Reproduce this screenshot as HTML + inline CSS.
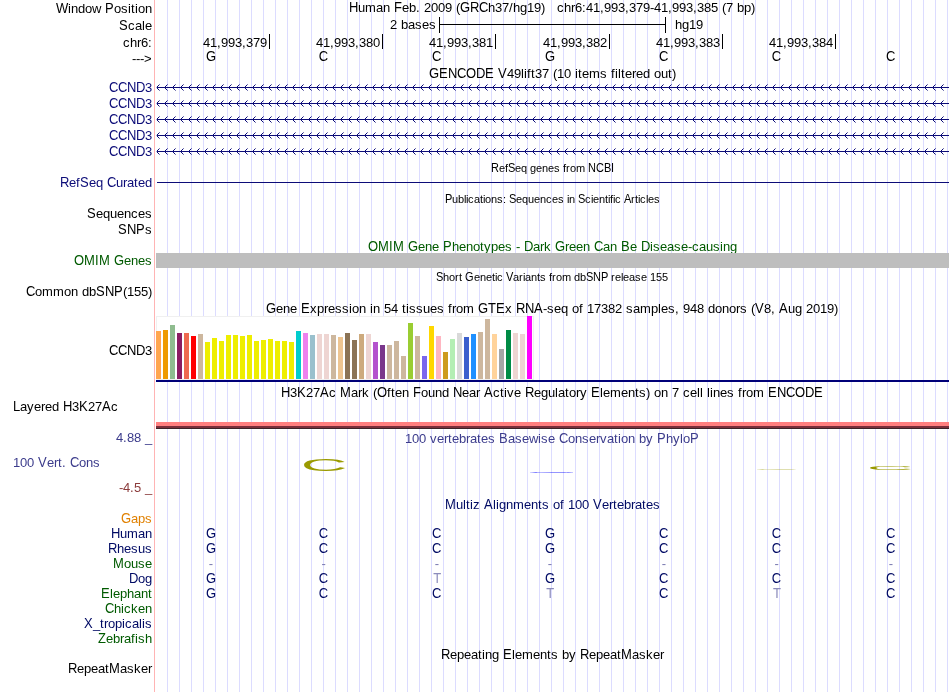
<!DOCTYPE html>
<html><head><meta charset="utf-8"><title>UCSC Genome Browser</title>
<style>
html,body{margin:0;padding:0;background:#fff;}
#img{position:relative;width:950px;height:692px;overflow:hidden;background:#fff;}
svg{display:block;will-change:transform;white-space:pre;font-family:"Liberation Sans", sans-serif;font-size:13px;}
</style></head><body>
<div id="img">
<svg width="950" height="692" viewBox="0 0 950 692" shape-rendering="crispEdges">
<rect x="167" y="0" width="1" height="692" fill="#dcdcff"/>
<rect x="179" y="0" width="1" height="692" fill="#dcdcff"/>
<rect x="191" y="0" width="1" height="692" fill="#dcdcff"/>
<rect x="203" y="0" width="1" height="692" fill="#dcdcff"/>
<rect x="215" y="0" width="1" height="692" fill="#dcdcff"/>
<rect x="227" y="0" width="1" height="692" fill="#dcdcff"/>
<rect x="239" y="0" width="1" height="692" fill="#dcdcff"/>
<rect x="251" y="0" width="1" height="692" fill="#dcdcff"/>
<rect x="263" y="0" width="1" height="692" fill="#dcdcff"/>
<rect x="275" y="0" width="1" height="692" fill="#dcdcff"/>
<rect x="287" y="0" width="1" height="692" fill="#dcdcff"/>
<rect x="299" y="0" width="1" height="692" fill="#dcdcff"/>
<rect x="311" y="0" width="1" height="692" fill="#dcdcff"/>
<rect x="323" y="0" width="1" height="692" fill="#dcdcff"/>
<rect x="335" y="0" width="1" height="692" fill="#dcdcff"/>
<rect x="347" y="0" width="1" height="692" fill="#dcdcff"/>
<rect x="359" y="0" width="1" height="692" fill="#dcdcff"/>
<rect x="371" y="0" width="1" height="692" fill="#dcdcff"/>
<rect x="383" y="0" width="1" height="692" fill="#dcdcff"/>
<rect x="395" y="0" width="1" height="692" fill="#dcdcff"/>
<rect x="407" y="0" width="1" height="692" fill="#dcdcff"/>
<rect x="419" y="0" width="1" height="692" fill="#dcdcff"/>
<rect x="431" y="0" width="1" height="692" fill="#dcdcff"/>
<rect x="443" y="0" width="1" height="692" fill="#dcdcff"/>
<rect x="455" y="0" width="1" height="692" fill="#dcdcff"/>
<rect x="467" y="0" width="1" height="692" fill="#dcdcff"/>
<rect x="479" y="0" width="1" height="692" fill="#dcdcff"/>
<rect x="491" y="0" width="1" height="692" fill="#dcdcff"/>
<rect x="503" y="0" width="1" height="692" fill="#dcdcff"/>
<rect x="515" y="0" width="1" height="692" fill="#dcdcff"/>
<rect x="527" y="0" width="1" height="692" fill="#dcdcff"/>
<rect x="539" y="0" width="1" height="692" fill="#dcdcff"/>
<rect x="551" y="0" width="1" height="692" fill="#dcdcff"/>
<rect x="563" y="0" width="1" height="692" fill="#dcdcff"/>
<rect x="575" y="0" width="1" height="692" fill="#dcdcff"/>
<rect x="587" y="0" width="1" height="692" fill="#dcdcff"/>
<rect x="599" y="0" width="1" height="692" fill="#dcdcff"/>
<rect x="611" y="0" width="1" height="692" fill="#dcdcff"/>
<rect x="623" y="0" width="1" height="692" fill="#dcdcff"/>
<rect x="635" y="0" width="1" height="692" fill="#dcdcff"/>
<rect x="647" y="0" width="1" height="692" fill="#dcdcff"/>
<rect x="659" y="0" width="1" height="692" fill="#dcdcff"/>
<rect x="671" y="0" width="1" height="692" fill="#dcdcff"/>
<rect x="683" y="0" width="1" height="692" fill="#dcdcff"/>
<rect x="695" y="0" width="1" height="692" fill="#dcdcff"/>
<rect x="707" y="0" width="1" height="692" fill="#dcdcff"/>
<rect x="719" y="0" width="1" height="692" fill="#dcdcff"/>
<rect x="731" y="0" width="1" height="692" fill="#dcdcff"/>
<rect x="743" y="0" width="1" height="692" fill="#dcdcff"/>
<rect x="755" y="0" width="1" height="692" fill="#dcdcff"/>
<rect x="767" y="0" width="1" height="692" fill="#dcdcff"/>
<rect x="779" y="0" width="1" height="692" fill="#dcdcff"/>
<rect x="791" y="0" width="1" height="692" fill="#dcdcff"/>
<rect x="803" y="0" width="1" height="692" fill="#dcdcff"/>
<rect x="815" y="0" width="1" height="692" fill="#dcdcff"/>
<rect x="827" y="0" width="1" height="692" fill="#dcdcff"/>
<rect x="839" y="0" width="1" height="692" fill="#dcdcff"/>
<rect x="851" y="0" width="1" height="692" fill="#dcdcff"/>
<rect x="863" y="0" width="1" height="692" fill="#dcdcff"/>
<rect x="875" y="0" width="1" height="692" fill="#dcdcff"/>
<rect x="887" y="0" width="1" height="692" fill="#dcdcff"/>
<rect x="899" y="0" width="1" height="692" fill="#dcdcff"/>
<rect x="911" y="0" width="1" height="692" fill="#dcdcff"/>
<rect x="923" y="0" width="1" height="692" fill="#dcdcff"/>
<rect x="935" y="0" width="1" height="692" fill="#dcdcff"/>
<rect x="947" y="0" width="1" height="692" fill="#dcdcff"/>
<rect x="154" y="0" width="1" height="692" fill="#ffb4b4"/>
<text y="13"><tspan x="56" font-size="14" textLength="12.27" lengthAdjust="spacingAndGlyphs">W</tspan><tspan x="68 71 78 85 92 101">indow </tspan><tspan x="105" font-size="14" textLength="8.67" lengthAdjust="spacingAndGlyphs">P</tspan><tspan x="114 121 128 131 135 138 145">osition</tspan></text>
<text y="12"><tspan x="349" font-size="14" textLength="9.39" lengthAdjust="spacingAndGlyphs">H</tspan><tspan x="358 365 376 383 390">uman </tspan><tspan x="394" font-size="14" textLength="7.94" lengthAdjust="spacingAndGlyphs">F</tspan><tspan x="402 409 416 420 424 431 438 445 452 456">eb. 2009 (</tspan><tspan x="460" font-size="14" textLength="10.11" lengthAdjust="spacingAndGlyphs">G</tspan><tspan x="470" font-size="14" textLength="9.39" lengthAdjust="spacingAndGlyphs">R</tspan><tspan x="479" font-size="14" textLength="9.39" lengthAdjust="spacingAndGlyphs">C</tspan><tspan x="488 495 502 509 513 520 527 534 541 545 549 553 557 564 571 575 582 586 593 600 604 611 618 625 629 636 643 650 654 661 668 672 679 686 693 697 704 711 718 722 726 733 737 744 751">h37/hg19)   chr6:41,993,379-41,993,385 (7 bp)</tspan></text>
<text y="30"><tspan x="119" font-size="14" textLength="8.67" lengthAdjust="spacingAndGlyphs">S</tspan><tspan x="128 135 142 145">cale</tspan></text>
<text x="390 397 401 408 415 422 429" y="29">2 bases</text>
<rect x="439" y="17" width="1" height="16" fill="#000"/>
<rect x="665" y="17" width="1" height="16" fill="#000"/>
<rect x="439" y="24" width="227" height="1" fill="#000"/>
<text x="675 682 689 696" y="29">hg19</text>
<text x="123 130 137 141 148" y="47">chr6:</text>
<rect x="269" y="34" width="1" height="15" fill="#000"/>
<text x="203 210 217 221 228 235 242 246 253 260" y="47">41,993,379</text>
<rect x="382" y="34" width="1" height="15" fill="#000"/>
<text x="316 323 330 334 341 348 355 359 366 373" y="47">41,993,380</text>
<rect x="495" y="34" width="1" height="15" fill="#000"/>
<text x="429 436 443 447 454 461 468 472 479 486" y="47">41,993,381</text>
<rect x="609" y="34" width="1" height="15" fill="#000"/>
<text x="543 550 557 561 568 575 582 586 593 600" y="47">41,993,382</text>
<rect x="722" y="34" width="1" height="15" fill="#000"/>
<text x="656 663 670 674 681 688 695 699 706 713" y="47">41,993,383</text>
<rect x="835" y="34" width="1" height="15" fill="#000"/>
<text x="769 776 783 787 794 801 808 812 819 826" y="47">41,993,384</text>
<text x="132 136 140 144" y="63">---&gt;</text>
<text x="205.9" y="61"><tspan x="205.9" font-size="14" textLength="10.11" lengthAdjust="spacingAndGlyphs">G</tspan></text>
<text x="318.83" y="61"><tspan x="318.83" font-size="14" textLength="9.39" lengthAdjust="spacingAndGlyphs">C</tspan></text>
<text x="432.08" y="61"><tspan x="432.08" font-size="14" textLength="9.39" lengthAdjust="spacingAndGlyphs">C</tspan></text>
<text x="544.9" y="61"><tspan x="544.9" font-size="14" textLength="10.11" lengthAdjust="spacingAndGlyphs">G</tspan></text>
<text x="658.88" y="61"><tspan x="658.88" font-size="14" textLength="9.39" lengthAdjust="spacingAndGlyphs">C</tspan></text>
<text x="771.83" y="61"><tspan x="771.83" font-size="14" textLength="9.39" lengthAdjust="spacingAndGlyphs">C</tspan></text>
<text x="885.88" y="61"><tspan x="885.88" font-size="14" textLength="9.39" lengthAdjust="spacingAndGlyphs">C</tspan></text>
<text y="78"><tspan x="429" font-size="14" textLength="10.11" lengthAdjust="spacingAndGlyphs">G</tspan><tspan x="439" font-size="14" textLength="8.67" lengthAdjust="spacingAndGlyphs">E</tspan><tspan x="448" font-size="14" textLength="9.39" lengthAdjust="spacingAndGlyphs">N</tspan><tspan x="457" font-size="14" textLength="9.39" lengthAdjust="spacingAndGlyphs">C</tspan><tspan x="466" font-size="14" textLength="10.11" lengthAdjust="spacingAndGlyphs">O</tspan><tspan x="476" font-size="14" textLength="9.39" lengthAdjust="spacingAndGlyphs">D</tspan><tspan x="485" font-size="14" textLength="8.67" lengthAdjust="spacingAndGlyphs">E</tspan><tspan x="494"> </tspan><tspan x="498" font-size="14" textLength="8.67" lengthAdjust="spacingAndGlyphs">V</tspan><tspan x="507 514 521 524 527 531 535 542 549 553 557 564 571 575 578 582 589 600 607 611 615 618 621 625 632 636 643 650 654 661 668 672">49lift37 (10 items filtered out)</tspan></text>
<text y="92" fill="#0c0c78"><tspan x="109" font-size="14" textLength="9.39" lengthAdjust="spacingAndGlyphs">C</tspan><tspan x="118" font-size="14" textLength="9.39" lengthAdjust="spacingAndGlyphs">C</tspan><tspan x="127" font-size="14" textLength="9.39" lengthAdjust="spacingAndGlyphs">N</tspan><tspan x="136" font-size="14" textLength="9.39" lengthAdjust="spacingAndGlyphs">D</tspan><tspan x="145">3</tspan></text>
<rect x="157" y="87" width="792" height="1" fill="#0c0c78"/>
<rect x="156" y="87" width="1" height="1" fill="#0c0c78" fill-opacity="0.35"/>
<text y="108" fill="#0c0c78"><tspan x="109" font-size="14" textLength="9.39" lengthAdjust="spacingAndGlyphs">C</tspan><tspan x="118" font-size="14" textLength="9.39" lengthAdjust="spacingAndGlyphs">C</tspan><tspan x="127" font-size="14" textLength="9.39" lengthAdjust="spacingAndGlyphs">N</tspan><tspan x="136" font-size="14" textLength="9.39" lengthAdjust="spacingAndGlyphs">D</tspan><tspan x="145">3</tspan></text>
<rect x="157" y="103" width="792" height="1" fill="#0c0c78"/>
<rect x="156" y="103" width="1" height="1" fill="#0c0c78" fill-opacity="0.35"/>
<text y="124" fill="#0c0c78"><tspan x="109" font-size="14" textLength="9.39" lengthAdjust="spacingAndGlyphs">C</tspan><tspan x="118" font-size="14" textLength="9.39" lengthAdjust="spacingAndGlyphs">C</tspan><tspan x="127" font-size="14" textLength="9.39" lengthAdjust="spacingAndGlyphs">N</tspan><tspan x="136" font-size="14" textLength="9.39" lengthAdjust="spacingAndGlyphs">D</tspan><tspan x="145">3</tspan></text>
<rect x="157" y="119" width="792" height="1" fill="#0c0c78"/>
<rect x="156" y="119" width="1" height="1" fill="#0c0c78" fill-opacity="0.35"/>
<text y="140" fill="#0c0c78"><tspan x="109" font-size="14" textLength="9.39" lengthAdjust="spacingAndGlyphs">C</tspan><tspan x="118" font-size="14" textLength="9.39" lengthAdjust="spacingAndGlyphs">C</tspan><tspan x="127" font-size="14" textLength="9.39" lengthAdjust="spacingAndGlyphs">N</tspan><tspan x="136" font-size="14" textLength="9.39" lengthAdjust="spacingAndGlyphs">D</tspan><tspan x="145">3</tspan></text>
<rect x="157" y="135" width="792" height="1" fill="#0c0c78"/>
<rect x="156" y="135" width="1" height="1" fill="#0c0c78" fill-opacity="0.35"/>
<text y="156" fill="#0c0c78"><tspan x="109" font-size="14" textLength="9.39" lengthAdjust="spacingAndGlyphs">C</tspan><tspan x="118" font-size="14" textLength="9.39" lengthAdjust="spacingAndGlyphs">C</tspan><tspan x="127" font-size="14" textLength="9.39" lengthAdjust="spacingAndGlyphs">N</tspan><tspan x="136" font-size="14" textLength="9.39" lengthAdjust="spacingAndGlyphs">D</tspan><tspan x="145">3</tspan></text>
<rect x="157" y="151" width="792" height="1" fill="#0c0c78"/>
<rect x="156" y="151" width="1" height="1" fill="#0c0c78" fill-opacity="0.35"/>
<path d="M157,87h1v1h-1zM157,86h1v3h-1z M158,85h1v1h-1zM158,89h1v1h-1zM165,87h1v1h-1zM165,86h1v3h-1z M166,85h1v1h-1zM166,89h1v1h-1zM173,87h1v1h-1zM173,86h1v3h-1z M174,85h1v1h-1zM174,89h1v1h-1zM181,87h1v1h-1zM181,86h1v3h-1z M182,85h1v1h-1zM182,89h1v1h-1zM189,87h1v1h-1zM189,86h1v3h-1z M190,85h1v1h-1zM190,89h1v1h-1zM197,87h1v1h-1zM197,86h1v3h-1z M198,85h1v1h-1zM198,89h1v1h-1zM205,87h1v1h-1zM205,86h1v3h-1z M206,85h1v1h-1zM206,89h1v1h-1zM213,87h1v1h-1zM213,86h1v3h-1z M214,85h1v1h-1zM214,89h1v1h-1zM221,87h1v1h-1zM221,86h1v3h-1z M222,85h1v1h-1zM222,89h1v1h-1zM229,87h1v1h-1zM229,86h1v3h-1z M230,85h1v1h-1zM230,89h1v1h-1zM237,87h1v1h-1zM237,86h1v3h-1z M238,85h1v1h-1zM238,89h1v1h-1zM245,87h1v1h-1zM245,86h1v3h-1z M246,85h1v1h-1zM246,89h1v1h-1zM253,87h1v1h-1zM253,86h1v3h-1z M254,85h1v1h-1zM254,89h1v1h-1zM261,87h1v1h-1zM261,86h1v3h-1z M262,85h1v1h-1zM262,89h1v1h-1zM269,87h1v1h-1zM269,86h1v3h-1z M270,85h1v1h-1zM270,89h1v1h-1zM277,87h1v1h-1zM277,86h1v3h-1z M278,85h1v1h-1zM278,89h1v1h-1zM285,87h1v1h-1zM285,86h1v3h-1z M286,85h1v1h-1zM286,89h1v1h-1zM293,87h1v1h-1zM293,86h1v3h-1z M294,85h1v1h-1zM294,89h1v1h-1zM301,87h1v1h-1zM301,86h1v3h-1z M302,85h1v1h-1zM302,89h1v1h-1zM309,87h1v1h-1zM309,86h1v3h-1z M310,85h1v1h-1zM310,89h1v1h-1zM317,87h1v1h-1zM317,86h1v3h-1z M318,85h1v1h-1zM318,89h1v1h-1zM325,87h1v1h-1zM325,86h1v3h-1z M326,85h1v1h-1zM326,89h1v1h-1zM333,87h1v1h-1zM333,86h1v3h-1z M334,85h1v1h-1zM334,89h1v1h-1zM341,87h1v1h-1zM341,86h1v3h-1z M342,85h1v1h-1zM342,89h1v1h-1zM349,87h1v1h-1zM349,86h1v3h-1z M350,85h1v1h-1zM350,89h1v1h-1zM357,87h1v1h-1zM357,86h1v3h-1z M358,85h1v1h-1zM358,89h1v1h-1zM365,87h1v1h-1zM365,86h1v3h-1z M366,85h1v1h-1zM366,89h1v1h-1zM373,87h1v1h-1zM373,86h1v3h-1z M374,85h1v1h-1zM374,89h1v1h-1zM381,87h1v1h-1zM381,86h1v3h-1z M382,85h1v1h-1zM382,89h1v1h-1zM389,87h1v1h-1zM389,86h1v3h-1z M390,85h1v1h-1zM390,89h1v1h-1zM397,87h1v1h-1zM397,86h1v3h-1z M398,85h1v1h-1zM398,89h1v1h-1zM405,87h1v1h-1zM405,86h1v3h-1z M406,85h1v1h-1zM406,89h1v1h-1zM413,87h1v1h-1zM413,86h1v3h-1z M414,85h1v1h-1zM414,89h1v1h-1zM421,87h1v1h-1zM421,86h1v3h-1z M422,85h1v1h-1zM422,89h1v1h-1zM429,87h1v1h-1zM429,86h1v3h-1z M430,85h1v1h-1zM430,89h1v1h-1zM437,87h1v1h-1zM437,86h1v3h-1z M438,85h1v1h-1zM438,89h1v1h-1zM445,87h1v1h-1zM445,86h1v3h-1z M446,85h1v1h-1zM446,89h1v1h-1zM453,87h1v1h-1zM453,86h1v3h-1z M454,85h1v1h-1zM454,89h1v1h-1zM461,87h1v1h-1zM461,86h1v3h-1z M462,85h1v1h-1zM462,89h1v1h-1zM469,87h1v1h-1zM469,86h1v3h-1z M470,85h1v1h-1zM470,89h1v1h-1zM477,87h1v1h-1zM477,86h1v3h-1z M478,85h1v1h-1zM478,89h1v1h-1zM485,87h1v1h-1zM485,86h1v3h-1z M486,85h1v1h-1zM486,89h1v1h-1zM493,87h1v1h-1zM493,86h1v3h-1z M494,85h1v1h-1zM494,89h1v1h-1zM501,87h1v1h-1zM501,86h1v3h-1z M502,85h1v1h-1zM502,89h1v1h-1zM509,87h1v1h-1zM509,86h1v3h-1z M510,85h1v1h-1zM510,89h1v1h-1zM517,87h1v1h-1zM517,86h1v3h-1z M518,85h1v1h-1zM518,89h1v1h-1zM525,87h1v1h-1zM525,86h1v3h-1z M526,85h1v1h-1zM526,89h1v1h-1zM533,87h1v1h-1zM533,86h1v3h-1z M534,85h1v1h-1zM534,89h1v1h-1zM541,87h1v1h-1zM541,86h1v3h-1z M542,85h1v1h-1zM542,89h1v1h-1zM549,87h1v1h-1zM549,86h1v3h-1z M550,85h1v1h-1zM550,89h1v1h-1zM557,87h1v1h-1zM557,86h1v3h-1z M558,85h1v1h-1zM558,89h1v1h-1zM565,87h1v1h-1zM565,86h1v3h-1z M566,85h1v1h-1zM566,89h1v1h-1zM573,87h1v1h-1zM573,86h1v3h-1z M574,85h1v1h-1zM574,89h1v1h-1zM581,87h1v1h-1zM581,86h1v3h-1z M582,85h1v1h-1zM582,89h1v1h-1zM589,87h1v1h-1zM589,86h1v3h-1z M590,85h1v1h-1zM590,89h1v1h-1zM597,87h1v1h-1zM597,86h1v3h-1z M598,85h1v1h-1zM598,89h1v1h-1zM605,87h1v1h-1zM605,86h1v3h-1z M606,85h1v1h-1zM606,89h1v1h-1zM613,87h1v1h-1zM613,86h1v3h-1z M614,85h1v1h-1zM614,89h1v1h-1zM621,87h1v1h-1zM621,86h1v3h-1z M622,85h1v1h-1zM622,89h1v1h-1zM629,87h1v1h-1zM629,86h1v3h-1z M630,85h1v1h-1zM630,89h1v1h-1zM637,87h1v1h-1zM637,86h1v3h-1z M638,85h1v1h-1zM638,89h1v1h-1zM645,87h1v1h-1zM645,86h1v3h-1z M646,85h1v1h-1zM646,89h1v1h-1zM653,87h1v1h-1zM653,86h1v3h-1z M654,85h1v1h-1zM654,89h1v1h-1zM661,87h1v1h-1zM661,86h1v3h-1z M662,85h1v1h-1zM662,89h1v1h-1zM669,87h1v1h-1zM669,86h1v3h-1z M670,85h1v1h-1zM670,89h1v1h-1zM677,87h1v1h-1zM677,86h1v3h-1z M678,85h1v1h-1zM678,89h1v1h-1zM685,87h1v1h-1zM685,86h1v3h-1z M686,85h1v1h-1zM686,89h1v1h-1zM693,87h1v1h-1zM693,86h1v3h-1z M694,85h1v1h-1zM694,89h1v1h-1zM701,87h1v1h-1zM701,86h1v3h-1z M702,85h1v1h-1zM702,89h1v1h-1zM709,87h1v1h-1zM709,86h1v3h-1z M710,85h1v1h-1zM710,89h1v1h-1zM717,87h1v1h-1zM717,86h1v3h-1z M718,85h1v1h-1zM718,89h1v1h-1zM725,87h1v1h-1zM725,86h1v3h-1z M726,85h1v1h-1zM726,89h1v1h-1zM733,87h1v1h-1zM733,86h1v3h-1z M734,85h1v1h-1zM734,89h1v1h-1zM741,87h1v1h-1zM741,86h1v3h-1z M742,85h1v1h-1zM742,89h1v1h-1zM749,87h1v1h-1zM749,86h1v3h-1z M750,85h1v1h-1zM750,89h1v1h-1zM757,87h1v1h-1zM757,86h1v3h-1z M758,85h1v1h-1zM758,89h1v1h-1zM765,87h1v1h-1zM765,86h1v3h-1z M766,85h1v1h-1zM766,89h1v1h-1zM773,87h1v1h-1zM773,86h1v3h-1z M774,85h1v1h-1zM774,89h1v1h-1zM781,87h1v1h-1zM781,86h1v3h-1z M782,85h1v1h-1zM782,89h1v1h-1zM789,87h1v1h-1zM789,86h1v3h-1z M790,85h1v1h-1zM790,89h1v1h-1zM797,87h1v1h-1zM797,86h1v3h-1z M798,85h1v1h-1zM798,89h1v1h-1zM805,87h1v1h-1zM805,86h1v3h-1z M806,85h1v1h-1zM806,89h1v1h-1zM813,87h1v1h-1zM813,86h1v3h-1z M814,85h1v1h-1zM814,89h1v1h-1zM821,87h1v1h-1zM821,86h1v3h-1z M822,85h1v1h-1zM822,89h1v1h-1zM829,87h1v1h-1zM829,86h1v3h-1z M830,85h1v1h-1zM830,89h1v1h-1zM837,87h1v1h-1zM837,86h1v3h-1z M838,85h1v1h-1zM838,89h1v1h-1zM845,87h1v1h-1zM845,86h1v3h-1z M846,85h1v1h-1zM846,89h1v1h-1zM853,87h1v1h-1zM853,86h1v3h-1z M854,85h1v1h-1zM854,89h1v1h-1zM861,87h1v1h-1zM861,86h1v3h-1z M862,85h1v1h-1zM862,89h1v1h-1zM869,87h1v1h-1zM869,86h1v3h-1z M870,85h1v1h-1zM870,89h1v1h-1zM877,87h1v1h-1zM877,86h1v3h-1z M878,85h1v1h-1zM878,89h1v1h-1zM885,87h1v1h-1zM885,86h1v3h-1z M886,85h1v1h-1zM886,89h1v1h-1zM893,87h1v1h-1zM893,86h1v3h-1z M894,85h1v1h-1zM894,89h1v1h-1zM901,87h1v1h-1zM901,86h1v3h-1z M902,85h1v1h-1zM902,89h1v1h-1zM909,87h1v1h-1zM909,86h1v3h-1z M910,85h1v1h-1zM910,89h1v1h-1zM917,87h1v1h-1zM917,86h1v3h-1z M918,85h1v1h-1zM918,89h1v1h-1zM925,87h1v1h-1zM925,86h1v3h-1z M926,85h1v1h-1zM926,89h1v1h-1zM933,87h1v1h-1zM933,86h1v3h-1z M934,85h1v1h-1zM934,89h1v1h-1zM941,87h1v1h-1zM941,86h1v3h-1z M942,85h1v1h-1zM942,89h1v1h-1zM157,103h1v1h-1zM157,102h1v3h-1z M158,101h1v1h-1zM158,105h1v1h-1zM165,103h1v1h-1zM165,102h1v3h-1z M166,101h1v1h-1zM166,105h1v1h-1zM173,103h1v1h-1zM173,102h1v3h-1z M174,101h1v1h-1zM174,105h1v1h-1zM181,103h1v1h-1zM181,102h1v3h-1z M182,101h1v1h-1zM182,105h1v1h-1zM189,103h1v1h-1zM189,102h1v3h-1z M190,101h1v1h-1zM190,105h1v1h-1zM197,103h1v1h-1zM197,102h1v3h-1z M198,101h1v1h-1zM198,105h1v1h-1zM205,103h1v1h-1zM205,102h1v3h-1z M206,101h1v1h-1zM206,105h1v1h-1zM213,103h1v1h-1zM213,102h1v3h-1z M214,101h1v1h-1zM214,105h1v1h-1zM221,103h1v1h-1zM221,102h1v3h-1z M222,101h1v1h-1zM222,105h1v1h-1zM229,103h1v1h-1zM229,102h1v3h-1z M230,101h1v1h-1zM230,105h1v1h-1zM237,103h1v1h-1zM237,102h1v3h-1z M238,101h1v1h-1zM238,105h1v1h-1zM245,103h1v1h-1zM245,102h1v3h-1z M246,101h1v1h-1zM246,105h1v1h-1zM253,103h1v1h-1zM253,102h1v3h-1z M254,101h1v1h-1zM254,105h1v1h-1zM261,103h1v1h-1zM261,102h1v3h-1z M262,101h1v1h-1zM262,105h1v1h-1zM269,103h1v1h-1zM269,102h1v3h-1z M270,101h1v1h-1zM270,105h1v1h-1zM277,103h1v1h-1zM277,102h1v3h-1z M278,101h1v1h-1zM278,105h1v1h-1zM285,103h1v1h-1zM285,102h1v3h-1z M286,101h1v1h-1zM286,105h1v1h-1zM293,103h1v1h-1zM293,102h1v3h-1z M294,101h1v1h-1zM294,105h1v1h-1zM301,103h1v1h-1zM301,102h1v3h-1z M302,101h1v1h-1zM302,105h1v1h-1zM309,103h1v1h-1zM309,102h1v3h-1z M310,101h1v1h-1zM310,105h1v1h-1zM317,103h1v1h-1zM317,102h1v3h-1z M318,101h1v1h-1zM318,105h1v1h-1zM325,103h1v1h-1zM325,102h1v3h-1z M326,101h1v1h-1zM326,105h1v1h-1zM333,103h1v1h-1zM333,102h1v3h-1z M334,101h1v1h-1zM334,105h1v1h-1zM341,103h1v1h-1zM341,102h1v3h-1z M342,101h1v1h-1zM342,105h1v1h-1zM349,103h1v1h-1zM349,102h1v3h-1z M350,101h1v1h-1zM350,105h1v1h-1zM357,103h1v1h-1zM357,102h1v3h-1z M358,101h1v1h-1zM358,105h1v1h-1zM365,103h1v1h-1zM365,102h1v3h-1z M366,101h1v1h-1zM366,105h1v1h-1zM373,103h1v1h-1zM373,102h1v3h-1z M374,101h1v1h-1zM374,105h1v1h-1zM381,103h1v1h-1zM381,102h1v3h-1z M382,101h1v1h-1zM382,105h1v1h-1zM389,103h1v1h-1zM389,102h1v3h-1z M390,101h1v1h-1zM390,105h1v1h-1zM397,103h1v1h-1zM397,102h1v3h-1z M398,101h1v1h-1zM398,105h1v1h-1zM405,103h1v1h-1zM405,102h1v3h-1z M406,101h1v1h-1zM406,105h1v1h-1zM413,103h1v1h-1zM413,102h1v3h-1z M414,101h1v1h-1zM414,105h1v1h-1zM421,103h1v1h-1zM421,102h1v3h-1z M422,101h1v1h-1zM422,105h1v1h-1zM429,103h1v1h-1zM429,102h1v3h-1z M430,101h1v1h-1zM430,105h1v1h-1zM437,103h1v1h-1zM437,102h1v3h-1z M438,101h1v1h-1zM438,105h1v1h-1zM445,103h1v1h-1zM445,102h1v3h-1z M446,101h1v1h-1zM446,105h1v1h-1zM453,103h1v1h-1zM453,102h1v3h-1z M454,101h1v1h-1zM454,105h1v1h-1zM461,103h1v1h-1zM461,102h1v3h-1z M462,101h1v1h-1zM462,105h1v1h-1zM469,103h1v1h-1zM469,102h1v3h-1z M470,101h1v1h-1zM470,105h1v1h-1zM477,103h1v1h-1zM477,102h1v3h-1z M478,101h1v1h-1zM478,105h1v1h-1zM485,103h1v1h-1zM485,102h1v3h-1z M486,101h1v1h-1zM486,105h1v1h-1zM493,103h1v1h-1zM493,102h1v3h-1z M494,101h1v1h-1zM494,105h1v1h-1zM501,103h1v1h-1zM501,102h1v3h-1z M502,101h1v1h-1zM502,105h1v1h-1zM509,103h1v1h-1zM509,102h1v3h-1z M510,101h1v1h-1zM510,105h1v1h-1zM517,103h1v1h-1zM517,102h1v3h-1z M518,101h1v1h-1zM518,105h1v1h-1zM525,103h1v1h-1zM525,102h1v3h-1z M526,101h1v1h-1zM526,105h1v1h-1zM533,103h1v1h-1zM533,102h1v3h-1z M534,101h1v1h-1zM534,105h1v1h-1zM541,103h1v1h-1zM541,102h1v3h-1z M542,101h1v1h-1zM542,105h1v1h-1zM549,103h1v1h-1zM549,102h1v3h-1z M550,101h1v1h-1zM550,105h1v1h-1zM557,103h1v1h-1zM557,102h1v3h-1z M558,101h1v1h-1zM558,105h1v1h-1zM565,103h1v1h-1zM565,102h1v3h-1z M566,101h1v1h-1zM566,105h1v1h-1zM573,103h1v1h-1zM573,102h1v3h-1z M574,101h1v1h-1zM574,105h1v1h-1zM581,103h1v1h-1zM581,102h1v3h-1z M582,101h1v1h-1zM582,105h1v1h-1zM589,103h1v1h-1zM589,102h1v3h-1z M590,101h1v1h-1zM590,105h1v1h-1zM597,103h1v1h-1zM597,102h1v3h-1z M598,101h1v1h-1zM598,105h1v1h-1zM605,103h1v1h-1zM605,102h1v3h-1z M606,101h1v1h-1zM606,105h1v1h-1zM613,103h1v1h-1zM613,102h1v3h-1z M614,101h1v1h-1zM614,105h1v1h-1zM621,103h1v1h-1zM621,102h1v3h-1z M622,101h1v1h-1zM622,105h1v1h-1zM629,103h1v1h-1zM629,102h1v3h-1z M630,101h1v1h-1zM630,105h1v1h-1zM637,103h1v1h-1zM637,102h1v3h-1z M638,101h1v1h-1zM638,105h1v1h-1zM645,103h1v1h-1zM645,102h1v3h-1z M646,101h1v1h-1zM646,105h1v1h-1zM653,103h1v1h-1zM653,102h1v3h-1z M654,101h1v1h-1zM654,105h1v1h-1zM661,103h1v1h-1zM661,102h1v3h-1z M662,101h1v1h-1zM662,105h1v1h-1zM669,103h1v1h-1zM669,102h1v3h-1z M670,101h1v1h-1zM670,105h1v1h-1zM677,103h1v1h-1zM677,102h1v3h-1z M678,101h1v1h-1zM678,105h1v1h-1zM685,103h1v1h-1zM685,102h1v3h-1z M686,101h1v1h-1zM686,105h1v1h-1zM693,103h1v1h-1zM693,102h1v3h-1z M694,101h1v1h-1zM694,105h1v1h-1zM701,103h1v1h-1zM701,102h1v3h-1z M702,101h1v1h-1zM702,105h1v1h-1zM709,103h1v1h-1zM709,102h1v3h-1z M710,101h1v1h-1zM710,105h1v1h-1zM717,103h1v1h-1zM717,102h1v3h-1z M718,101h1v1h-1zM718,105h1v1h-1zM725,103h1v1h-1zM725,102h1v3h-1z M726,101h1v1h-1zM726,105h1v1h-1zM733,103h1v1h-1zM733,102h1v3h-1z M734,101h1v1h-1zM734,105h1v1h-1zM741,103h1v1h-1zM741,102h1v3h-1z M742,101h1v1h-1zM742,105h1v1h-1zM749,103h1v1h-1zM749,102h1v3h-1z M750,101h1v1h-1zM750,105h1v1h-1zM757,103h1v1h-1zM757,102h1v3h-1z M758,101h1v1h-1zM758,105h1v1h-1zM765,103h1v1h-1zM765,102h1v3h-1z M766,101h1v1h-1zM766,105h1v1h-1zM773,103h1v1h-1zM773,102h1v3h-1z M774,101h1v1h-1zM774,105h1v1h-1zM781,103h1v1h-1zM781,102h1v3h-1z M782,101h1v1h-1zM782,105h1v1h-1zM789,103h1v1h-1zM789,102h1v3h-1z M790,101h1v1h-1zM790,105h1v1h-1zM797,103h1v1h-1zM797,102h1v3h-1z M798,101h1v1h-1zM798,105h1v1h-1zM805,103h1v1h-1zM805,102h1v3h-1z M806,101h1v1h-1zM806,105h1v1h-1zM813,103h1v1h-1zM813,102h1v3h-1z M814,101h1v1h-1zM814,105h1v1h-1zM821,103h1v1h-1zM821,102h1v3h-1z M822,101h1v1h-1zM822,105h1v1h-1zM829,103h1v1h-1zM829,102h1v3h-1z M830,101h1v1h-1zM830,105h1v1h-1zM837,103h1v1h-1zM837,102h1v3h-1z M838,101h1v1h-1zM838,105h1v1h-1zM845,103h1v1h-1zM845,102h1v3h-1z M846,101h1v1h-1zM846,105h1v1h-1zM853,103h1v1h-1zM853,102h1v3h-1z M854,101h1v1h-1zM854,105h1v1h-1zM861,103h1v1h-1zM861,102h1v3h-1z M862,101h1v1h-1zM862,105h1v1h-1zM869,103h1v1h-1zM869,102h1v3h-1z M870,101h1v1h-1zM870,105h1v1h-1zM877,103h1v1h-1zM877,102h1v3h-1z M878,101h1v1h-1zM878,105h1v1h-1zM885,103h1v1h-1zM885,102h1v3h-1z M886,101h1v1h-1zM886,105h1v1h-1zM893,103h1v1h-1zM893,102h1v3h-1z M894,101h1v1h-1zM894,105h1v1h-1zM901,103h1v1h-1zM901,102h1v3h-1z M902,101h1v1h-1zM902,105h1v1h-1zM909,103h1v1h-1zM909,102h1v3h-1z M910,101h1v1h-1zM910,105h1v1h-1zM917,103h1v1h-1zM917,102h1v3h-1z M918,101h1v1h-1zM918,105h1v1h-1zM925,103h1v1h-1zM925,102h1v3h-1z M926,101h1v1h-1zM926,105h1v1h-1zM933,103h1v1h-1zM933,102h1v3h-1z M934,101h1v1h-1zM934,105h1v1h-1zM941,103h1v1h-1zM941,102h1v3h-1z M942,101h1v1h-1zM942,105h1v1h-1zM157,119h1v1h-1zM157,118h1v3h-1z M158,117h1v1h-1zM158,121h1v1h-1zM165,119h1v1h-1zM165,118h1v3h-1z M166,117h1v1h-1zM166,121h1v1h-1zM173,119h1v1h-1zM173,118h1v3h-1z M174,117h1v1h-1zM174,121h1v1h-1zM181,119h1v1h-1zM181,118h1v3h-1z M182,117h1v1h-1zM182,121h1v1h-1zM189,119h1v1h-1zM189,118h1v3h-1z M190,117h1v1h-1zM190,121h1v1h-1zM197,119h1v1h-1zM197,118h1v3h-1z M198,117h1v1h-1zM198,121h1v1h-1zM205,119h1v1h-1zM205,118h1v3h-1z M206,117h1v1h-1zM206,121h1v1h-1zM213,119h1v1h-1zM213,118h1v3h-1z M214,117h1v1h-1zM214,121h1v1h-1zM221,119h1v1h-1zM221,118h1v3h-1z M222,117h1v1h-1zM222,121h1v1h-1zM229,119h1v1h-1zM229,118h1v3h-1z M230,117h1v1h-1zM230,121h1v1h-1zM237,119h1v1h-1zM237,118h1v3h-1z M238,117h1v1h-1zM238,121h1v1h-1zM245,119h1v1h-1zM245,118h1v3h-1z M246,117h1v1h-1zM246,121h1v1h-1zM253,119h1v1h-1zM253,118h1v3h-1z M254,117h1v1h-1zM254,121h1v1h-1zM261,119h1v1h-1zM261,118h1v3h-1z M262,117h1v1h-1zM262,121h1v1h-1zM269,119h1v1h-1zM269,118h1v3h-1z M270,117h1v1h-1zM270,121h1v1h-1zM277,119h1v1h-1zM277,118h1v3h-1z M278,117h1v1h-1zM278,121h1v1h-1zM285,119h1v1h-1zM285,118h1v3h-1z M286,117h1v1h-1zM286,121h1v1h-1zM293,119h1v1h-1zM293,118h1v3h-1z M294,117h1v1h-1zM294,121h1v1h-1zM301,119h1v1h-1zM301,118h1v3h-1z M302,117h1v1h-1zM302,121h1v1h-1zM309,119h1v1h-1zM309,118h1v3h-1z M310,117h1v1h-1zM310,121h1v1h-1zM317,119h1v1h-1zM317,118h1v3h-1z M318,117h1v1h-1zM318,121h1v1h-1zM325,119h1v1h-1zM325,118h1v3h-1z M326,117h1v1h-1zM326,121h1v1h-1zM333,119h1v1h-1zM333,118h1v3h-1z M334,117h1v1h-1zM334,121h1v1h-1zM341,119h1v1h-1zM341,118h1v3h-1z M342,117h1v1h-1zM342,121h1v1h-1zM349,119h1v1h-1zM349,118h1v3h-1z M350,117h1v1h-1zM350,121h1v1h-1zM357,119h1v1h-1zM357,118h1v3h-1z M358,117h1v1h-1zM358,121h1v1h-1zM365,119h1v1h-1zM365,118h1v3h-1z M366,117h1v1h-1zM366,121h1v1h-1zM373,119h1v1h-1zM373,118h1v3h-1z M374,117h1v1h-1zM374,121h1v1h-1zM381,119h1v1h-1zM381,118h1v3h-1z M382,117h1v1h-1zM382,121h1v1h-1zM389,119h1v1h-1zM389,118h1v3h-1z M390,117h1v1h-1zM390,121h1v1h-1zM397,119h1v1h-1zM397,118h1v3h-1z M398,117h1v1h-1zM398,121h1v1h-1zM405,119h1v1h-1zM405,118h1v3h-1z M406,117h1v1h-1zM406,121h1v1h-1zM413,119h1v1h-1zM413,118h1v3h-1z M414,117h1v1h-1zM414,121h1v1h-1zM421,119h1v1h-1zM421,118h1v3h-1z M422,117h1v1h-1zM422,121h1v1h-1zM429,119h1v1h-1zM429,118h1v3h-1z M430,117h1v1h-1zM430,121h1v1h-1zM437,119h1v1h-1zM437,118h1v3h-1z M438,117h1v1h-1zM438,121h1v1h-1zM445,119h1v1h-1zM445,118h1v3h-1z M446,117h1v1h-1zM446,121h1v1h-1zM453,119h1v1h-1zM453,118h1v3h-1z M454,117h1v1h-1zM454,121h1v1h-1zM461,119h1v1h-1zM461,118h1v3h-1z M462,117h1v1h-1zM462,121h1v1h-1zM469,119h1v1h-1zM469,118h1v3h-1z M470,117h1v1h-1zM470,121h1v1h-1zM477,119h1v1h-1zM477,118h1v3h-1z M478,117h1v1h-1zM478,121h1v1h-1zM485,119h1v1h-1zM485,118h1v3h-1z M486,117h1v1h-1zM486,121h1v1h-1zM493,119h1v1h-1zM493,118h1v3h-1z M494,117h1v1h-1zM494,121h1v1h-1zM501,119h1v1h-1zM501,118h1v3h-1z M502,117h1v1h-1zM502,121h1v1h-1zM509,119h1v1h-1zM509,118h1v3h-1z M510,117h1v1h-1zM510,121h1v1h-1zM517,119h1v1h-1zM517,118h1v3h-1z M518,117h1v1h-1zM518,121h1v1h-1zM525,119h1v1h-1zM525,118h1v3h-1z M526,117h1v1h-1zM526,121h1v1h-1zM533,119h1v1h-1zM533,118h1v3h-1z M534,117h1v1h-1zM534,121h1v1h-1zM541,119h1v1h-1zM541,118h1v3h-1z M542,117h1v1h-1zM542,121h1v1h-1zM549,119h1v1h-1zM549,118h1v3h-1z M550,117h1v1h-1zM550,121h1v1h-1zM557,119h1v1h-1zM557,118h1v3h-1z M558,117h1v1h-1zM558,121h1v1h-1zM565,119h1v1h-1zM565,118h1v3h-1z M566,117h1v1h-1zM566,121h1v1h-1zM573,119h1v1h-1zM573,118h1v3h-1z M574,117h1v1h-1zM574,121h1v1h-1zM581,119h1v1h-1zM581,118h1v3h-1z M582,117h1v1h-1zM582,121h1v1h-1zM589,119h1v1h-1zM589,118h1v3h-1z M590,117h1v1h-1zM590,121h1v1h-1zM597,119h1v1h-1zM597,118h1v3h-1z M598,117h1v1h-1zM598,121h1v1h-1zM605,119h1v1h-1zM605,118h1v3h-1z M606,117h1v1h-1zM606,121h1v1h-1zM613,119h1v1h-1zM613,118h1v3h-1z M614,117h1v1h-1zM614,121h1v1h-1zM621,119h1v1h-1zM621,118h1v3h-1z M622,117h1v1h-1zM622,121h1v1h-1zM629,119h1v1h-1zM629,118h1v3h-1z M630,117h1v1h-1zM630,121h1v1h-1zM637,119h1v1h-1zM637,118h1v3h-1z M638,117h1v1h-1zM638,121h1v1h-1zM645,119h1v1h-1zM645,118h1v3h-1z M646,117h1v1h-1zM646,121h1v1h-1zM653,119h1v1h-1zM653,118h1v3h-1z M654,117h1v1h-1zM654,121h1v1h-1zM661,119h1v1h-1zM661,118h1v3h-1z M662,117h1v1h-1zM662,121h1v1h-1zM669,119h1v1h-1zM669,118h1v3h-1z M670,117h1v1h-1zM670,121h1v1h-1zM677,119h1v1h-1zM677,118h1v3h-1z M678,117h1v1h-1zM678,121h1v1h-1zM685,119h1v1h-1zM685,118h1v3h-1z M686,117h1v1h-1zM686,121h1v1h-1zM693,119h1v1h-1zM693,118h1v3h-1z M694,117h1v1h-1zM694,121h1v1h-1zM701,119h1v1h-1zM701,118h1v3h-1z M702,117h1v1h-1zM702,121h1v1h-1zM709,119h1v1h-1zM709,118h1v3h-1z M710,117h1v1h-1zM710,121h1v1h-1zM717,119h1v1h-1zM717,118h1v3h-1z M718,117h1v1h-1zM718,121h1v1h-1zM725,119h1v1h-1zM725,118h1v3h-1z M726,117h1v1h-1zM726,121h1v1h-1zM733,119h1v1h-1zM733,118h1v3h-1z M734,117h1v1h-1zM734,121h1v1h-1zM741,119h1v1h-1zM741,118h1v3h-1z M742,117h1v1h-1zM742,121h1v1h-1zM749,119h1v1h-1zM749,118h1v3h-1z M750,117h1v1h-1zM750,121h1v1h-1zM757,119h1v1h-1zM757,118h1v3h-1z M758,117h1v1h-1zM758,121h1v1h-1zM765,119h1v1h-1zM765,118h1v3h-1z M766,117h1v1h-1zM766,121h1v1h-1zM773,119h1v1h-1zM773,118h1v3h-1z M774,117h1v1h-1zM774,121h1v1h-1zM781,119h1v1h-1zM781,118h1v3h-1z M782,117h1v1h-1zM782,121h1v1h-1zM789,119h1v1h-1zM789,118h1v3h-1z M790,117h1v1h-1zM790,121h1v1h-1zM797,119h1v1h-1zM797,118h1v3h-1z M798,117h1v1h-1zM798,121h1v1h-1zM805,119h1v1h-1zM805,118h1v3h-1z M806,117h1v1h-1zM806,121h1v1h-1zM813,119h1v1h-1zM813,118h1v3h-1z M814,117h1v1h-1zM814,121h1v1h-1zM821,119h1v1h-1zM821,118h1v3h-1z M822,117h1v1h-1zM822,121h1v1h-1zM829,119h1v1h-1zM829,118h1v3h-1z M830,117h1v1h-1zM830,121h1v1h-1zM837,119h1v1h-1zM837,118h1v3h-1z M838,117h1v1h-1zM838,121h1v1h-1zM845,119h1v1h-1zM845,118h1v3h-1z M846,117h1v1h-1zM846,121h1v1h-1zM853,119h1v1h-1zM853,118h1v3h-1z M854,117h1v1h-1zM854,121h1v1h-1zM861,119h1v1h-1zM861,118h1v3h-1z M862,117h1v1h-1zM862,121h1v1h-1zM869,119h1v1h-1zM869,118h1v3h-1z M870,117h1v1h-1zM870,121h1v1h-1zM877,119h1v1h-1zM877,118h1v3h-1z M878,117h1v1h-1zM878,121h1v1h-1zM885,119h1v1h-1zM885,118h1v3h-1z M886,117h1v1h-1zM886,121h1v1h-1zM893,119h1v1h-1zM893,118h1v3h-1z M894,117h1v1h-1zM894,121h1v1h-1zM901,119h1v1h-1zM901,118h1v3h-1z M902,117h1v1h-1zM902,121h1v1h-1zM909,119h1v1h-1zM909,118h1v3h-1z M910,117h1v1h-1zM910,121h1v1h-1zM917,119h1v1h-1zM917,118h1v3h-1z M918,117h1v1h-1zM918,121h1v1h-1zM925,119h1v1h-1zM925,118h1v3h-1z M926,117h1v1h-1zM926,121h1v1h-1zM933,119h1v1h-1zM933,118h1v3h-1z M934,117h1v1h-1zM934,121h1v1h-1zM941,119h1v1h-1zM941,118h1v3h-1z M942,117h1v1h-1zM942,121h1v1h-1zM157,135h1v1h-1zM157,134h1v3h-1z M158,133h1v1h-1zM158,137h1v1h-1zM165,135h1v1h-1zM165,134h1v3h-1z M166,133h1v1h-1zM166,137h1v1h-1zM173,135h1v1h-1zM173,134h1v3h-1z M174,133h1v1h-1zM174,137h1v1h-1zM181,135h1v1h-1zM181,134h1v3h-1z M182,133h1v1h-1zM182,137h1v1h-1zM189,135h1v1h-1zM189,134h1v3h-1z M190,133h1v1h-1zM190,137h1v1h-1zM197,135h1v1h-1zM197,134h1v3h-1z M198,133h1v1h-1zM198,137h1v1h-1zM205,135h1v1h-1zM205,134h1v3h-1z M206,133h1v1h-1zM206,137h1v1h-1zM213,135h1v1h-1zM213,134h1v3h-1z M214,133h1v1h-1zM214,137h1v1h-1zM221,135h1v1h-1zM221,134h1v3h-1z M222,133h1v1h-1zM222,137h1v1h-1zM229,135h1v1h-1zM229,134h1v3h-1z M230,133h1v1h-1zM230,137h1v1h-1zM237,135h1v1h-1zM237,134h1v3h-1z M238,133h1v1h-1zM238,137h1v1h-1zM245,135h1v1h-1zM245,134h1v3h-1z M246,133h1v1h-1zM246,137h1v1h-1zM253,135h1v1h-1zM253,134h1v3h-1z M254,133h1v1h-1zM254,137h1v1h-1zM261,135h1v1h-1zM261,134h1v3h-1z M262,133h1v1h-1zM262,137h1v1h-1zM269,135h1v1h-1zM269,134h1v3h-1z M270,133h1v1h-1zM270,137h1v1h-1zM277,135h1v1h-1zM277,134h1v3h-1z M278,133h1v1h-1zM278,137h1v1h-1zM285,135h1v1h-1zM285,134h1v3h-1z M286,133h1v1h-1zM286,137h1v1h-1zM293,135h1v1h-1zM293,134h1v3h-1z M294,133h1v1h-1zM294,137h1v1h-1zM301,135h1v1h-1zM301,134h1v3h-1z M302,133h1v1h-1zM302,137h1v1h-1zM309,135h1v1h-1zM309,134h1v3h-1z M310,133h1v1h-1zM310,137h1v1h-1zM317,135h1v1h-1zM317,134h1v3h-1z M318,133h1v1h-1zM318,137h1v1h-1zM325,135h1v1h-1zM325,134h1v3h-1z M326,133h1v1h-1zM326,137h1v1h-1zM333,135h1v1h-1zM333,134h1v3h-1z M334,133h1v1h-1zM334,137h1v1h-1zM341,135h1v1h-1zM341,134h1v3h-1z M342,133h1v1h-1zM342,137h1v1h-1zM349,135h1v1h-1zM349,134h1v3h-1z M350,133h1v1h-1zM350,137h1v1h-1zM357,135h1v1h-1zM357,134h1v3h-1z M358,133h1v1h-1zM358,137h1v1h-1zM365,135h1v1h-1zM365,134h1v3h-1z M366,133h1v1h-1zM366,137h1v1h-1zM373,135h1v1h-1zM373,134h1v3h-1z M374,133h1v1h-1zM374,137h1v1h-1zM381,135h1v1h-1zM381,134h1v3h-1z M382,133h1v1h-1zM382,137h1v1h-1zM389,135h1v1h-1zM389,134h1v3h-1z M390,133h1v1h-1zM390,137h1v1h-1zM397,135h1v1h-1zM397,134h1v3h-1z M398,133h1v1h-1zM398,137h1v1h-1zM405,135h1v1h-1zM405,134h1v3h-1z M406,133h1v1h-1zM406,137h1v1h-1zM413,135h1v1h-1zM413,134h1v3h-1z M414,133h1v1h-1zM414,137h1v1h-1zM421,135h1v1h-1zM421,134h1v3h-1z M422,133h1v1h-1zM422,137h1v1h-1zM429,135h1v1h-1zM429,134h1v3h-1z M430,133h1v1h-1zM430,137h1v1h-1zM437,135h1v1h-1zM437,134h1v3h-1z M438,133h1v1h-1zM438,137h1v1h-1zM445,135h1v1h-1zM445,134h1v3h-1z M446,133h1v1h-1zM446,137h1v1h-1zM453,135h1v1h-1zM453,134h1v3h-1z M454,133h1v1h-1zM454,137h1v1h-1zM461,135h1v1h-1zM461,134h1v3h-1z M462,133h1v1h-1zM462,137h1v1h-1zM469,135h1v1h-1zM469,134h1v3h-1z M470,133h1v1h-1zM470,137h1v1h-1zM477,135h1v1h-1zM477,134h1v3h-1z M478,133h1v1h-1zM478,137h1v1h-1zM485,135h1v1h-1zM485,134h1v3h-1z M486,133h1v1h-1zM486,137h1v1h-1zM493,135h1v1h-1zM493,134h1v3h-1z M494,133h1v1h-1zM494,137h1v1h-1zM501,135h1v1h-1zM501,134h1v3h-1z M502,133h1v1h-1zM502,137h1v1h-1zM509,135h1v1h-1zM509,134h1v3h-1z M510,133h1v1h-1zM510,137h1v1h-1zM517,135h1v1h-1zM517,134h1v3h-1z M518,133h1v1h-1zM518,137h1v1h-1zM525,135h1v1h-1zM525,134h1v3h-1z M526,133h1v1h-1zM526,137h1v1h-1zM533,135h1v1h-1zM533,134h1v3h-1z M534,133h1v1h-1zM534,137h1v1h-1zM541,135h1v1h-1zM541,134h1v3h-1z M542,133h1v1h-1zM542,137h1v1h-1zM549,135h1v1h-1zM549,134h1v3h-1z M550,133h1v1h-1zM550,137h1v1h-1zM557,135h1v1h-1zM557,134h1v3h-1z M558,133h1v1h-1zM558,137h1v1h-1zM565,135h1v1h-1zM565,134h1v3h-1z M566,133h1v1h-1zM566,137h1v1h-1zM573,135h1v1h-1zM573,134h1v3h-1z M574,133h1v1h-1zM574,137h1v1h-1zM581,135h1v1h-1zM581,134h1v3h-1z M582,133h1v1h-1zM582,137h1v1h-1zM589,135h1v1h-1zM589,134h1v3h-1z M590,133h1v1h-1zM590,137h1v1h-1zM597,135h1v1h-1zM597,134h1v3h-1z M598,133h1v1h-1zM598,137h1v1h-1zM605,135h1v1h-1zM605,134h1v3h-1z M606,133h1v1h-1zM606,137h1v1h-1zM613,135h1v1h-1zM613,134h1v3h-1z M614,133h1v1h-1zM614,137h1v1h-1zM621,135h1v1h-1zM621,134h1v3h-1z M622,133h1v1h-1zM622,137h1v1h-1zM629,135h1v1h-1zM629,134h1v3h-1z M630,133h1v1h-1zM630,137h1v1h-1zM637,135h1v1h-1zM637,134h1v3h-1z M638,133h1v1h-1zM638,137h1v1h-1zM645,135h1v1h-1zM645,134h1v3h-1z M646,133h1v1h-1zM646,137h1v1h-1zM653,135h1v1h-1zM653,134h1v3h-1z M654,133h1v1h-1zM654,137h1v1h-1zM661,135h1v1h-1zM661,134h1v3h-1z M662,133h1v1h-1zM662,137h1v1h-1zM669,135h1v1h-1zM669,134h1v3h-1z M670,133h1v1h-1zM670,137h1v1h-1zM677,135h1v1h-1zM677,134h1v3h-1z M678,133h1v1h-1zM678,137h1v1h-1zM685,135h1v1h-1zM685,134h1v3h-1z M686,133h1v1h-1zM686,137h1v1h-1zM693,135h1v1h-1zM693,134h1v3h-1z M694,133h1v1h-1zM694,137h1v1h-1zM701,135h1v1h-1zM701,134h1v3h-1z M702,133h1v1h-1zM702,137h1v1h-1zM709,135h1v1h-1zM709,134h1v3h-1z M710,133h1v1h-1zM710,137h1v1h-1zM717,135h1v1h-1zM717,134h1v3h-1z M718,133h1v1h-1zM718,137h1v1h-1zM725,135h1v1h-1zM725,134h1v3h-1z M726,133h1v1h-1zM726,137h1v1h-1zM733,135h1v1h-1zM733,134h1v3h-1z M734,133h1v1h-1zM734,137h1v1h-1zM741,135h1v1h-1zM741,134h1v3h-1z M742,133h1v1h-1zM742,137h1v1h-1zM749,135h1v1h-1zM749,134h1v3h-1z M750,133h1v1h-1zM750,137h1v1h-1zM757,135h1v1h-1zM757,134h1v3h-1z M758,133h1v1h-1zM758,137h1v1h-1zM765,135h1v1h-1zM765,134h1v3h-1z M766,133h1v1h-1zM766,137h1v1h-1zM773,135h1v1h-1zM773,134h1v3h-1z M774,133h1v1h-1zM774,137h1v1h-1zM781,135h1v1h-1zM781,134h1v3h-1z M782,133h1v1h-1zM782,137h1v1h-1zM789,135h1v1h-1zM789,134h1v3h-1z M790,133h1v1h-1zM790,137h1v1h-1zM797,135h1v1h-1zM797,134h1v3h-1z M798,133h1v1h-1zM798,137h1v1h-1zM805,135h1v1h-1zM805,134h1v3h-1z M806,133h1v1h-1zM806,137h1v1h-1zM813,135h1v1h-1zM813,134h1v3h-1z M814,133h1v1h-1zM814,137h1v1h-1zM821,135h1v1h-1zM821,134h1v3h-1z M822,133h1v1h-1zM822,137h1v1h-1zM829,135h1v1h-1zM829,134h1v3h-1z M830,133h1v1h-1zM830,137h1v1h-1zM837,135h1v1h-1zM837,134h1v3h-1z M838,133h1v1h-1zM838,137h1v1h-1zM845,135h1v1h-1zM845,134h1v3h-1z M846,133h1v1h-1zM846,137h1v1h-1zM853,135h1v1h-1zM853,134h1v3h-1z M854,133h1v1h-1zM854,137h1v1h-1zM861,135h1v1h-1zM861,134h1v3h-1z M862,133h1v1h-1zM862,137h1v1h-1zM869,135h1v1h-1zM869,134h1v3h-1z M870,133h1v1h-1zM870,137h1v1h-1zM877,135h1v1h-1zM877,134h1v3h-1z M878,133h1v1h-1zM878,137h1v1h-1zM885,135h1v1h-1zM885,134h1v3h-1z M886,133h1v1h-1zM886,137h1v1h-1zM893,135h1v1h-1zM893,134h1v3h-1z M894,133h1v1h-1zM894,137h1v1h-1zM901,135h1v1h-1zM901,134h1v3h-1z M902,133h1v1h-1zM902,137h1v1h-1zM909,135h1v1h-1zM909,134h1v3h-1z M910,133h1v1h-1zM910,137h1v1h-1zM917,135h1v1h-1zM917,134h1v3h-1z M918,133h1v1h-1zM918,137h1v1h-1zM925,135h1v1h-1zM925,134h1v3h-1z M926,133h1v1h-1zM926,137h1v1h-1zM933,135h1v1h-1zM933,134h1v3h-1z M934,133h1v1h-1zM934,137h1v1h-1zM941,135h1v1h-1zM941,134h1v3h-1z M942,133h1v1h-1zM942,137h1v1h-1zM157,151h1v1h-1zM157,150h1v3h-1z M158,149h1v1h-1zM158,153h1v1h-1zM165,151h1v1h-1zM165,150h1v3h-1z M166,149h1v1h-1zM166,153h1v1h-1zM173,151h1v1h-1zM173,150h1v3h-1z M174,149h1v1h-1zM174,153h1v1h-1zM181,151h1v1h-1zM181,150h1v3h-1z M182,149h1v1h-1zM182,153h1v1h-1zM189,151h1v1h-1zM189,150h1v3h-1z M190,149h1v1h-1zM190,153h1v1h-1zM197,151h1v1h-1zM197,150h1v3h-1z M198,149h1v1h-1zM198,153h1v1h-1zM205,151h1v1h-1zM205,150h1v3h-1z M206,149h1v1h-1zM206,153h1v1h-1zM213,151h1v1h-1zM213,150h1v3h-1z M214,149h1v1h-1zM214,153h1v1h-1zM221,151h1v1h-1zM221,150h1v3h-1z M222,149h1v1h-1zM222,153h1v1h-1zM229,151h1v1h-1zM229,150h1v3h-1z M230,149h1v1h-1zM230,153h1v1h-1zM237,151h1v1h-1zM237,150h1v3h-1z M238,149h1v1h-1zM238,153h1v1h-1zM245,151h1v1h-1zM245,150h1v3h-1z M246,149h1v1h-1zM246,153h1v1h-1zM253,151h1v1h-1zM253,150h1v3h-1z M254,149h1v1h-1zM254,153h1v1h-1zM261,151h1v1h-1zM261,150h1v3h-1z M262,149h1v1h-1zM262,153h1v1h-1zM269,151h1v1h-1zM269,150h1v3h-1z M270,149h1v1h-1zM270,153h1v1h-1zM277,151h1v1h-1zM277,150h1v3h-1z M278,149h1v1h-1zM278,153h1v1h-1zM285,151h1v1h-1zM285,150h1v3h-1z M286,149h1v1h-1zM286,153h1v1h-1zM293,151h1v1h-1zM293,150h1v3h-1z M294,149h1v1h-1zM294,153h1v1h-1zM301,151h1v1h-1zM301,150h1v3h-1z M302,149h1v1h-1zM302,153h1v1h-1zM309,151h1v1h-1zM309,150h1v3h-1z M310,149h1v1h-1zM310,153h1v1h-1zM317,151h1v1h-1zM317,150h1v3h-1z M318,149h1v1h-1zM318,153h1v1h-1zM325,151h1v1h-1zM325,150h1v3h-1z M326,149h1v1h-1zM326,153h1v1h-1zM333,151h1v1h-1zM333,150h1v3h-1z M334,149h1v1h-1zM334,153h1v1h-1zM341,151h1v1h-1zM341,150h1v3h-1z M342,149h1v1h-1zM342,153h1v1h-1zM349,151h1v1h-1zM349,150h1v3h-1z M350,149h1v1h-1zM350,153h1v1h-1zM357,151h1v1h-1zM357,150h1v3h-1z M358,149h1v1h-1zM358,153h1v1h-1zM365,151h1v1h-1zM365,150h1v3h-1z M366,149h1v1h-1zM366,153h1v1h-1zM373,151h1v1h-1zM373,150h1v3h-1z M374,149h1v1h-1zM374,153h1v1h-1zM381,151h1v1h-1zM381,150h1v3h-1z M382,149h1v1h-1zM382,153h1v1h-1zM389,151h1v1h-1zM389,150h1v3h-1z M390,149h1v1h-1zM390,153h1v1h-1zM397,151h1v1h-1zM397,150h1v3h-1z M398,149h1v1h-1zM398,153h1v1h-1zM405,151h1v1h-1zM405,150h1v3h-1z M406,149h1v1h-1zM406,153h1v1h-1zM413,151h1v1h-1zM413,150h1v3h-1z M414,149h1v1h-1zM414,153h1v1h-1zM421,151h1v1h-1zM421,150h1v3h-1z M422,149h1v1h-1zM422,153h1v1h-1zM429,151h1v1h-1zM429,150h1v3h-1z M430,149h1v1h-1zM430,153h1v1h-1zM437,151h1v1h-1zM437,150h1v3h-1z M438,149h1v1h-1zM438,153h1v1h-1zM445,151h1v1h-1zM445,150h1v3h-1z M446,149h1v1h-1zM446,153h1v1h-1zM453,151h1v1h-1zM453,150h1v3h-1z M454,149h1v1h-1zM454,153h1v1h-1zM461,151h1v1h-1zM461,150h1v3h-1z M462,149h1v1h-1zM462,153h1v1h-1zM469,151h1v1h-1zM469,150h1v3h-1z M470,149h1v1h-1zM470,153h1v1h-1zM477,151h1v1h-1zM477,150h1v3h-1z M478,149h1v1h-1zM478,153h1v1h-1zM485,151h1v1h-1zM485,150h1v3h-1z M486,149h1v1h-1zM486,153h1v1h-1zM493,151h1v1h-1zM493,150h1v3h-1z M494,149h1v1h-1zM494,153h1v1h-1zM501,151h1v1h-1zM501,150h1v3h-1z M502,149h1v1h-1zM502,153h1v1h-1zM509,151h1v1h-1zM509,150h1v3h-1z M510,149h1v1h-1zM510,153h1v1h-1zM517,151h1v1h-1zM517,150h1v3h-1z M518,149h1v1h-1zM518,153h1v1h-1zM525,151h1v1h-1zM525,150h1v3h-1z M526,149h1v1h-1zM526,153h1v1h-1zM533,151h1v1h-1zM533,150h1v3h-1z M534,149h1v1h-1zM534,153h1v1h-1zM541,151h1v1h-1zM541,150h1v3h-1z M542,149h1v1h-1zM542,153h1v1h-1zM549,151h1v1h-1zM549,150h1v3h-1z M550,149h1v1h-1zM550,153h1v1h-1zM557,151h1v1h-1zM557,150h1v3h-1z M558,149h1v1h-1zM558,153h1v1h-1zM565,151h1v1h-1zM565,150h1v3h-1z M566,149h1v1h-1zM566,153h1v1h-1zM573,151h1v1h-1zM573,150h1v3h-1z M574,149h1v1h-1zM574,153h1v1h-1zM581,151h1v1h-1zM581,150h1v3h-1z M582,149h1v1h-1zM582,153h1v1h-1zM589,151h1v1h-1zM589,150h1v3h-1z M590,149h1v1h-1zM590,153h1v1h-1zM597,151h1v1h-1zM597,150h1v3h-1z M598,149h1v1h-1zM598,153h1v1h-1zM605,151h1v1h-1zM605,150h1v3h-1z M606,149h1v1h-1zM606,153h1v1h-1zM613,151h1v1h-1zM613,150h1v3h-1z M614,149h1v1h-1zM614,153h1v1h-1zM621,151h1v1h-1zM621,150h1v3h-1z M622,149h1v1h-1zM622,153h1v1h-1zM629,151h1v1h-1zM629,150h1v3h-1z M630,149h1v1h-1zM630,153h1v1h-1zM637,151h1v1h-1zM637,150h1v3h-1z M638,149h1v1h-1zM638,153h1v1h-1zM645,151h1v1h-1zM645,150h1v3h-1z M646,149h1v1h-1zM646,153h1v1h-1zM653,151h1v1h-1zM653,150h1v3h-1z M654,149h1v1h-1zM654,153h1v1h-1zM661,151h1v1h-1zM661,150h1v3h-1z M662,149h1v1h-1zM662,153h1v1h-1zM669,151h1v1h-1zM669,150h1v3h-1z M670,149h1v1h-1zM670,153h1v1h-1zM677,151h1v1h-1zM677,150h1v3h-1z M678,149h1v1h-1zM678,153h1v1h-1zM685,151h1v1h-1zM685,150h1v3h-1z M686,149h1v1h-1zM686,153h1v1h-1zM693,151h1v1h-1zM693,150h1v3h-1z M694,149h1v1h-1zM694,153h1v1h-1zM701,151h1v1h-1zM701,150h1v3h-1z M702,149h1v1h-1zM702,153h1v1h-1zM709,151h1v1h-1zM709,150h1v3h-1z M710,149h1v1h-1zM710,153h1v1h-1zM717,151h1v1h-1zM717,150h1v3h-1z M718,149h1v1h-1zM718,153h1v1h-1zM725,151h1v1h-1zM725,150h1v3h-1z M726,149h1v1h-1zM726,153h1v1h-1zM733,151h1v1h-1zM733,150h1v3h-1z M734,149h1v1h-1zM734,153h1v1h-1zM741,151h1v1h-1zM741,150h1v3h-1z M742,149h1v1h-1zM742,153h1v1h-1zM749,151h1v1h-1zM749,150h1v3h-1z M750,149h1v1h-1zM750,153h1v1h-1zM757,151h1v1h-1zM757,150h1v3h-1z M758,149h1v1h-1zM758,153h1v1h-1zM765,151h1v1h-1zM765,150h1v3h-1z M766,149h1v1h-1zM766,153h1v1h-1zM773,151h1v1h-1zM773,150h1v3h-1z M774,149h1v1h-1zM774,153h1v1h-1zM781,151h1v1h-1zM781,150h1v3h-1z M782,149h1v1h-1zM782,153h1v1h-1zM789,151h1v1h-1zM789,150h1v3h-1z M790,149h1v1h-1zM790,153h1v1h-1zM797,151h1v1h-1zM797,150h1v3h-1z M798,149h1v1h-1zM798,153h1v1h-1zM805,151h1v1h-1zM805,150h1v3h-1z M806,149h1v1h-1zM806,153h1v1h-1zM813,151h1v1h-1zM813,150h1v3h-1z M814,149h1v1h-1zM814,153h1v1h-1zM821,151h1v1h-1zM821,150h1v3h-1z M822,149h1v1h-1zM822,153h1v1h-1zM829,151h1v1h-1zM829,150h1v3h-1z M830,149h1v1h-1zM830,153h1v1h-1zM837,151h1v1h-1zM837,150h1v3h-1z M838,149h1v1h-1zM838,153h1v1h-1zM845,151h1v1h-1zM845,150h1v3h-1z M846,149h1v1h-1zM846,153h1v1h-1zM853,151h1v1h-1zM853,150h1v3h-1z M854,149h1v1h-1zM854,153h1v1h-1zM861,151h1v1h-1zM861,150h1v3h-1z M862,149h1v1h-1zM862,153h1v1h-1zM869,151h1v1h-1zM869,150h1v3h-1z M870,149h1v1h-1zM870,153h1v1h-1zM877,151h1v1h-1zM877,150h1v3h-1z M878,149h1v1h-1zM878,153h1v1h-1zM885,151h1v1h-1zM885,150h1v3h-1z M886,149h1v1h-1zM886,153h1v1h-1zM893,151h1v1h-1zM893,150h1v3h-1z M894,149h1v1h-1zM894,153h1v1h-1zM901,151h1v1h-1zM901,150h1v3h-1z M902,149h1v1h-1zM902,153h1v1h-1zM909,151h1v1h-1zM909,150h1v3h-1z M910,149h1v1h-1zM910,153h1v1h-1zM917,151h1v1h-1zM917,150h1v3h-1z M918,149h1v1h-1zM918,153h1v1h-1zM925,151h1v1h-1zM925,150h1v3h-1z M926,149h1v1h-1zM926,153h1v1h-1zM933,151h1v1h-1zM933,150h1v3h-1z M934,149h1v1h-1zM934,153h1v1h-1zM941,151h1v1h-1zM941,150h1v3h-1z M942,149h1v1h-1zM942,153h1v1h-1z" fill="#0c0c78"/>
<path d="M159,84h1v1h-1zM159,90h1v1h-1zM167,84h1v1h-1zM167,90h1v1h-1zM175,84h1v1h-1zM175,90h1v1h-1zM183,84h1v1h-1zM183,90h1v1h-1zM191,84h1v1h-1zM191,90h1v1h-1zM199,84h1v1h-1zM199,90h1v1h-1zM207,84h1v1h-1zM207,90h1v1h-1zM215,84h1v1h-1zM215,90h1v1h-1zM223,84h1v1h-1zM223,90h1v1h-1zM231,84h1v1h-1zM231,90h1v1h-1zM239,84h1v1h-1zM239,90h1v1h-1zM247,84h1v1h-1zM247,90h1v1h-1zM255,84h1v1h-1zM255,90h1v1h-1zM263,84h1v1h-1zM263,90h1v1h-1zM271,84h1v1h-1zM271,90h1v1h-1zM279,84h1v1h-1zM279,90h1v1h-1zM287,84h1v1h-1zM287,90h1v1h-1zM295,84h1v1h-1zM295,90h1v1h-1zM303,84h1v1h-1zM303,90h1v1h-1zM311,84h1v1h-1zM311,90h1v1h-1zM319,84h1v1h-1zM319,90h1v1h-1zM327,84h1v1h-1zM327,90h1v1h-1zM335,84h1v1h-1zM335,90h1v1h-1zM343,84h1v1h-1zM343,90h1v1h-1zM351,84h1v1h-1zM351,90h1v1h-1zM359,84h1v1h-1zM359,90h1v1h-1zM367,84h1v1h-1zM367,90h1v1h-1zM375,84h1v1h-1zM375,90h1v1h-1zM383,84h1v1h-1zM383,90h1v1h-1zM391,84h1v1h-1zM391,90h1v1h-1zM399,84h1v1h-1zM399,90h1v1h-1zM407,84h1v1h-1zM407,90h1v1h-1zM415,84h1v1h-1zM415,90h1v1h-1zM423,84h1v1h-1zM423,90h1v1h-1zM431,84h1v1h-1zM431,90h1v1h-1zM439,84h1v1h-1zM439,90h1v1h-1zM447,84h1v1h-1zM447,90h1v1h-1zM455,84h1v1h-1zM455,90h1v1h-1zM463,84h1v1h-1zM463,90h1v1h-1zM471,84h1v1h-1zM471,90h1v1h-1zM479,84h1v1h-1zM479,90h1v1h-1zM487,84h1v1h-1zM487,90h1v1h-1zM495,84h1v1h-1zM495,90h1v1h-1zM503,84h1v1h-1zM503,90h1v1h-1zM511,84h1v1h-1zM511,90h1v1h-1zM519,84h1v1h-1zM519,90h1v1h-1zM527,84h1v1h-1zM527,90h1v1h-1zM535,84h1v1h-1zM535,90h1v1h-1zM543,84h1v1h-1zM543,90h1v1h-1zM551,84h1v1h-1zM551,90h1v1h-1zM559,84h1v1h-1zM559,90h1v1h-1zM567,84h1v1h-1zM567,90h1v1h-1zM575,84h1v1h-1zM575,90h1v1h-1zM583,84h1v1h-1zM583,90h1v1h-1zM591,84h1v1h-1zM591,90h1v1h-1zM599,84h1v1h-1zM599,90h1v1h-1zM607,84h1v1h-1zM607,90h1v1h-1zM615,84h1v1h-1zM615,90h1v1h-1zM623,84h1v1h-1zM623,90h1v1h-1zM631,84h1v1h-1zM631,90h1v1h-1zM639,84h1v1h-1zM639,90h1v1h-1zM647,84h1v1h-1zM647,90h1v1h-1zM655,84h1v1h-1zM655,90h1v1h-1zM663,84h1v1h-1zM663,90h1v1h-1zM671,84h1v1h-1zM671,90h1v1h-1zM679,84h1v1h-1zM679,90h1v1h-1zM687,84h1v1h-1zM687,90h1v1h-1zM695,84h1v1h-1zM695,90h1v1h-1zM703,84h1v1h-1zM703,90h1v1h-1zM711,84h1v1h-1zM711,90h1v1h-1zM719,84h1v1h-1zM719,90h1v1h-1zM727,84h1v1h-1zM727,90h1v1h-1zM735,84h1v1h-1zM735,90h1v1h-1zM743,84h1v1h-1zM743,90h1v1h-1zM751,84h1v1h-1zM751,90h1v1h-1zM759,84h1v1h-1zM759,90h1v1h-1zM767,84h1v1h-1zM767,90h1v1h-1zM775,84h1v1h-1zM775,90h1v1h-1zM783,84h1v1h-1zM783,90h1v1h-1zM791,84h1v1h-1zM791,90h1v1h-1zM799,84h1v1h-1zM799,90h1v1h-1zM807,84h1v1h-1zM807,90h1v1h-1zM815,84h1v1h-1zM815,90h1v1h-1zM823,84h1v1h-1zM823,90h1v1h-1zM831,84h1v1h-1zM831,90h1v1h-1zM839,84h1v1h-1zM839,90h1v1h-1zM847,84h1v1h-1zM847,90h1v1h-1zM855,84h1v1h-1zM855,90h1v1h-1zM863,84h1v1h-1zM863,90h1v1h-1zM871,84h1v1h-1zM871,90h1v1h-1zM879,84h1v1h-1zM879,90h1v1h-1zM887,84h1v1h-1zM887,90h1v1h-1zM895,84h1v1h-1zM895,90h1v1h-1zM903,84h1v1h-1zM903,90h1v1h-1zM911,84h1v1h-1zM911,90h1v1h-1zM919,84h1v1h-1zM919,90h1v1h-1zM927,84h1v1h-1zM927,90h1v1h-1zM935,84h1v1h-1zM935,90h1v1h-1zM943,84h1v1h-1zM943,90h1v1h-1zM159,100h1v1h-1zM159,106h1v1h-1zM167,100h1v1h-1zM167,106h1v1h-1zM175,100h1v1h-1zM175,106h1v1h-1zM183,100h1v1h-1zM183,106h1v1h-1zM191,100h1v1h-1zM191,106h1v1h-1zM199,100h1v1h-1zM199,106h1v1h-1zM207,100h1v1h-1zM207,106h1v1h-1zM215,100h1v1h-1zM215,106h1v1h-1zM223,100h1v1h-1zM223,106h1v1h-1zM231,100h1v1h-1zM231,106h1v1h-1zM239,100h1v1h-1zM239,106h1v1h-1zM247,100h1v1h-1zM247,106h1v1h-1zM255,100h1v1h-1zM255,106h1v1h-1zM263,100h1v1h-1zM263,106h1v1h-1zM271,100h1v1h-1zM271,106h1v1h-1zM279,100h1v1h-1zM279,106h1v1h-1zM287,100h1v1h-1zM287,106h1v1h-1zM295,100h1v1h-1zM295,106h1v1h-1zM303,100h1v1h-1zM303,106h1v1h-1zM311,100h1v1h-1zM311,106h1v1h-1zM319,100h1v1h-1zM319,106h1v1h-1zM327,100h1v1h-1zM327,106h1v1h-1zM335,100h1v1h-1zM335,106h1v1h-1zM343,100h1v1h-1zM343,106h1v1h-1zM351,100h1v1h-1zM351,106h1v1h-1zM359,100h1v1h-1zM359,106h1v1h-1zM367,100h1v1h-1zM367,106h1v1h-1zM375,100h1v1h-1zM375,106h1v1h-1zM383,100h1v1h-1zM383,106h1v1h-1zM391,100h1v1h-1zM391,106h1v1h-1zM399,100h1v1h-1zM399,106h1v1h-1zM407,100h1v1h-1zM407,106h1v1h-1zM415,100h1v1h-1zM415,106h1v1h-1zM423,100h1v1h-1zM423,106h1v1h-1zM431,100h1v1h-1zM431,106h1v1h-1zM439,100h1v1h-1zM439,106h1v1h-1zM447,100h1v1h-1zM447,106h1v1h-1zM455,100h1v1h-1zM455,106h1v1h-1zM463,100h1v1h-1zM463,106h1v1h-1zM471,100h1v1h-1zM471,106h1v1h-1zM479,100h1v1h-1zM479,106h1v1h-1zM487,100h1v1h-1zM487,106h1v1h-1zM495,100h1v1h-1zM495,106h1v1h-1zM503,100h1v1h-1zM503,106h1v1h-1zM511,100h1v1h-1zM511,106h1v1h-1zM519,100h1v1h-1zM519,106h1v1h-1zM527,100h1v1h-1zM527,106h1v1h-1zM535,100h1v1h-1zM535,106h1v1h-1zM543,100h1v1h-1zM543,106h1v1h-1zM551,100h1v1h-1zM551,106h1v1h-1zM559,100h1v1h-1zM559,106h1v1h-1zM567,100h1v1h-1zM567,106h1v1h-1zM575,100h1v1h-1zM575,106h1v1h-1zM583,100h1v1h-1zM583,106h1v1h-1zM591,100h1v1h-1zM591,106h1v1h-1zM599,100h1v1h-1zM599,106h1v1h-1zM607,100h1v1h-1zM607,106h1v1h-1zM615,100h1v1h-1zM615,106h1v1h-1zM623,100h1v1h-1zM623,106h1v1h-1zM631,100h1v1h-1zM631,106h1v1h-1zM639,100h1v1h-1zM639,106h1v1h-1zM647,100h1v1h-1zM647,106h1v1h-1zM655,100h1v1h-1zM655,106h1v1h-1zM663,100h1v1h-1zM663,106h1v1h-1zM671,100h1v1h-1zM671,106h1v1h-1zM679,100h1v1h-1zM679,106h1v1h-1zM687,100h1v1h-1zM687,106h1v1h-1zM695,100h1v1h-1zM695,106h1v1h-1zM703,100h1v1h-1zM703,106h1v1h-1zM711,100h1v1h-1zM711,106h1v1h-1zM719,100h1v1h-1zM719,106h1v1h-1zM727,100h1v1h-1zM727,106h1v1h-1zM735,100h1v1h-1zM735,106h1v1h-1zM743,100h1v1h-1zM743,106h1v1h-1zM751,100h1v1h-1zM751,106h1v1h-1zM759,100h1v1h-1zM759,106h1v1h-1zM767,100h1v1h-1zM767,106h1v1h-1zM775,100h1v1h-1zM775,106h1v1h-1zM783,100h1v1h-1zM783,106h1v1h-1zM791,100h1v1h-1zM791,106h1v1h-1zM799,100h1v1h-1zM799,106h1v1h-1zM807,100h1v1h-1zM807,106h1v1h-1zM815,100h1v1h-1zM815,106h1v1h-1zM823,100h1v1h-1zM823,106h1v1h-1zM831,100h1v1h-1zM831,106h1v1h-1zM839,100h1v1h-1zM839,106h1v1h-1zM847,100h1v1h-1zM847,106h1v1h-1zM855,100h1v1h-1zM855,106h1v1h-1zM863,100h1v1h-1zM863,106h1v1h-1zM871,100h1v1h-1zM871,106h1v1h-1zM879,100h1v1h-1zM879,106h1v1h-1zM887,100h1v1h-1zM887,106h1v1h-1zM895,100h1v1h-1zM895,106h1v1h-1zM903,100h1v1h-1zM903,106h1v1h-1zM911,100h1v1h-1zM911,106h1v1h-1zM919,100h1v1h-1zM919,106h1v1h-1zM927,100h1v1h-1zM927,106h1v1h-1zM935,100h1v1h-1zM935,106h1v1h-1zM943,100h1v1h-1zM943,106h1v1h-1zM159,116h1v1h-1zM159,122h1v1h-1zM167,116h1v1h-1zM167,122h1v1h-1zM175,116h1v1h-1zM175,122h1v1h-1zM183,116h1v1h-1zM183,122h1v1h-1zM191,116h1v1h-1zM191,122h1v1h-1zM199,116h1v1h-1zM199,122h1v1h-1zM207,116h1v1h-1zM207,122h1v1h-1zM215,116h1v1h-1zM215,122h1v1h-1zM223,116h1v1h-1zM223,122h1v1h-1zM231,116h1v1h-1zM231,122h1v1h-1zM239,116h1v1h-1zM239,122h1v1h-1zM247,116h1v1h-1zM247,122h1v1h-1zM255,116h1v1h-1zM255,122h1v1h-1zM263,116h1v1h-1zM263,122h1v1h-1zM271,116h1v1h-1zM271,122h1v1h-1zM279,116h1v1h-1zM279,122h1v1h-1zM287,116h1v1h-1zM287,122h1v1h-1zM295,116h1v1h-1zM295,122h1v1h-1zM303,116h1v1h-1zM303,122h1v1h-1zM311,116h1v1h-1zM311,122h1v1h-1zM319,116h1v1h-1zM319,122h1v1h-1zM327,116h1v1h-1zM327,122h1v1h-1zM335,116h1v1h-1zM335,122h1v1h-1zM343,116h1v1h-1zM343,122h1v1h-1zM351,116h1v1h-1zM351,122h1v1h-1zM359,116h1v1h-1zM359,122h1v1h-1zM367,116h1v1h-1zM367,122h1v1h-1zM375,116h1v1h-1zM375,122h1v1h-1zM383,116h1v1h-1zM383,122h1v1h-1zM391,116h1v1h-1zM391,122h1v1h-1zM399,116h1v1h-1zM399,122h1v1h-1zM407,116h1v1h-1zM407,122h1v1h-1zM415,116h1v1h-1zM415,122h1v1h-1zM423,116h1v1h-1zM423,122h1v1h-1zM431,116h1v1h-1zM431,122h1v1h-1zM439,116h1v1h-1zM439,122h1v1h-1zM447,116h1v1h-1zM447,122h1v1h-1zM455,116h1v1h-1zM455,122h1v1h-1zM463,116h1v1h-1zM463,122h1v1h-1zM471,116h1v1h-1zM471,122h1v1h-1zM479,116h1v1h-1zM479,122h1v1h-1zM487,116h1v1h-1zM487,122h1v1h-1zM495,116h1v1h-1zM495,122h1v1h-1zM503,116h1v1h-1zM503,122h1v1h-1zM511,116h1v1h-1zM511,122h1v1h-1zM519,116h1v1h-1zM519,122h1v1h-1zM527,116h1v1h-1zM527,122h1v1h-1zM535,116h1v1h-1zM535,122h1v1h-1zM543,116h1v1h-1zM543,122h1v1h-1zM551,116h1v1h-1zM551,122h1v1h-1zM559,116h1v1h-1zM559,122h1v1h-1zM567,116h1v1h-1zM567,122h1v1h-1zM575,116h1v1h-1zM575,122h1v1h-1zM583,116h1v1h-1zM583,122h1v1h-1zM591,116h1v1h-1zM591,122h1v1h-1zM599,116h1v1h-1zM599,122h1v1h-1zM607,116h1v1h-1zM607,122h1v1h-1zM615,116h1v1h-1zM615,122h1v1h-1zM623,116h1v1h-1zM623,122h1v1h-1zM631,116h1v1h-1zM631,122h1v1h-1zM639,116h1v1h-1zM639,122h1v1h-1zM647,116h1v1h-1zM647,122h1v1h-1zM655,116h1v1h-1zM655,122h1v1h-1zM663,116h1v1h-1zM663,122h1v1h-1zM671,116h1v1h-1zM671,122h1v1h-1zM679,116h1v1h-1zM679,122h1v1h-1zM687,116h1v1h-1zM687,122h1v1h-1zM695,116h1v1h-1zM695,122h1v1h-1zM703,116h1v1h-1zM703,122h1v1h-1zM711,116h1v1h-1zM711,122h1v1h-1zM719,116h1v1h-1zM719,122h1v1h-1zM727,116h1v1h-1zM727,122h1v1h-1zM735,116h1v1h-1zM735,122h1v1h-1zM743,116h1v1h-1zM743,122h1v1h-1zM751,116h1v1h-1zM751,122h1v1h-1zM759,116h1v1h-1zM759,122h1v1h-1zM767,116h1v1h-1zM767,122h1v1h-1zM775,116h1v1h-1zM775,122h1v1h-1zM783,116h1v1h-1zM783,122h1v1h-1zM791,116h1v1h-1zM791,122h1v1h-1zM799,116h1v1h-1zM799,122h1v1h-1zM807,116h1v1h-1zM807,122h1v1h-1zM815,116h1v1h-1zM815,122h1v1h-1zM823,116h1v1h-1zM823,122h1v1h-1zM831,116h1v1h-1zM831,122h1v1h-1zM839,116h1v1h-1zM839,122h1v1h-1zM847,116h1v1h-1zM847,122h1v1h-1zM855,116h1v1h-1zM855,122h1v1h-1zM863,116h1v1h-1zM863,122h1v1h-1zM871,116h1v1h-1zM871,122h1v1h-1zM879,116h1v1h-1zM879,122h1v1h-1zM887,116h1v1h-1zM887,122h1v1h-1zM895,116h1v1h-1zM895,122h1v1h-1zM903,116h1v1h-1zM903,122h1v1h-1zM911,116h1v1h-1zM911,122h1v1h-1zM919,116h1v1h-1zM919,122h1v1h-1zM927,116h1v1h-1zM927,122h1v1h-1zM935,116h1v1h-1zM935,122h1v1h-1zM943,116h1v1h-1zM943,122h1v1h-1zM159,132h1v1h-1zM159,138h1v1h-1zM167,132h1v1h-1zM167,138h1v1h-1zM175,132h1v1h-1zM175,138h1v1h-1zM183,132h1v1h-1zM183,138h1v1h-1zM191,132h1v1h-1zM191,138h1v1h-1zM199,132h1v1h-1zM199,138h1v1h-1zM207,132h1v1h-1zM207,138h1v1h-1zM215,132h1v1h-1zM215,138h1v1h-1zM223,132h1v1h-1zM223,138h1v1h-1zM231,132h1v1h-1zM231,138h1v1h-1zM239,132h1v1h-1zM239,138h1v1h-1zM247,132h1v1h-1zM247,138h1v1h-1zM255,132h1v1h-1zM255,138h1v1h-1zM263,132h1v1h-1zM263,138h1v1h-1zM271,132h1v1h-1zM271,138h1v1h-1zM279,132h1v1h-1zM279,138h1v1h-1zM287,132h1v1h-1zM287,138h1v1h-1zM295,132h1v1h-1zM295,138h1v1h-1zM303,132h1v1h-1zM303,138h1v1h-1zM311,132h1v1h-1zM311,138h1v1h-1zM319,132h1v1h-1zM319,138h1v1h-1zM327,132h1v1h-1zM327,138h1v1h-1zM335,132h1v1h-1zM335,138h1v1h-1zM343,132h1v1h-1zM343,138h1v1h-1zM351,132h1v1h-1zM351,138h1v1h-1zM359,132h1v1h-1zM359,138h1v1h-1zM367,132h1v1h-1zM367,138h1v1h-1zM375,132h1v1h-1zM375,138h1v1h-1zM383,132h1v1h-1zM383,138h1v1h-1zM391,132h1v1h-1zM391,138h1v1h-1zM399,132h1v1h-1zM399,138h1v1h-1zM407,132h1v1h-1zM407,138h1v1h-1zM415,132h1v1h-1zM415,138h1v1h-1zM423,132h1v1h-1zM423,138h1v1h-1zM431,132h1v1h-1zM431,138h1v1h-1zM439,132h1v1h-1zM439,138h1v1h-1zM447,132h1v1h-1zM447,138h1v1h-1zM455,132h1v1h-1zM455,138h1v1h-1zM463,132h1v1h-1zM463,138h1v1h-1zM471,132h1v1h-1zM471,138h1v1h-1zM479,132h1v1h-1zM479,138h1v1h-1zM487,132h1v1h-1zM487,138h1v1h-1zM495,132h1v1h-1zM495,138h1v1h-1zM503,132h1v1h-1zM503,138h1v1h-1zM511,132h1v1h-1zM511,138h1v1h-1zM519,132h1v1h-1zM519,138h1v1h-1zM527,132h1v1h-1zM527,138h1v1h-1zM535,132h1v1h-1zM535,138h1v1h-1zM543,132h1v1h-1zM543,138h1v1h-1zM551,132h1v1h-1zM551,138h1v1h-1zM559,132h1v1h-1zM559,138h1v1h-1zM567,132h1v1h-1zM567,138h1v1h-1zM575,132h1v1h-1zM575,138h1v1h-1zM583,132h1v1h-1zM583,138h1v1h-1zM591,132h1v1h-1zM591,138h1v1h-1zM599,132h1v1h-1zM599,138h1v1h-1zM607,132h1v1h-1zM607,138h1v1h-1zM615,132h1v1h-1zM615,138h1v1h-1zM623,132h1v1h-1zM623,138h1v1h-1zM631,132h1v1h-1zM631,138h1v1h-1zM639,132h1v1h-1zM639,138h1v1h-1zM647,132h1v1h-1zM647,138h1v1h-1zM655,132h1v1h-1zM655,138h1v1h-1zM663,132h1v1h-1zM663,138h1v1h-1zM671,132h1v1h-1zM671,138h1v1h-1zM679,132h1v1h-1zM679,138h1v1h-1zM687,132h1v1h-1zM687,138h1v1h-1zM695,132h1v1h-1zM695,138h1v1h-1zM703,132h1v1h-1zM703,138h1v1h-1zM711,132h1v1h-1zM711,138h1v1h-1zM719,132h1v1h-1zM719,138h1v1h-1zM727,132h1v1h-1zM727,138h1v1h-1zM735,132h1v1h-1zM735,138h1v1h-1zM743,132h1v1h-1zM743,138h1v1h-1zM751,132h1v1h-1zM751,138h1v1h-1zM759,132h1v1h-1zM759,138h1v1h-1zM767,132h1v1h-1zM767,138h1v1h-1zM775,132h1v1h-1zM775,138h1v1h-1zM783,132h1v1h-1zM783,138h1v1h-1zM791,132h1v1h-1zM791,138h1v1h-1zM799,132h1v1h-1zM799,138h1v1h-1zM807,132h1v1h-1zM807,138h1v1h-1zM815,132h1v1h-1zM815,138h1v1h-1zM823,132h1v1h-1zM823,138h1v1h-1zM831,132h1v1h-1zM831,138h1v1h-1zM839,132h1v1h-1zM839,138h1v1h-1zM847,132h1v1h-1zM847,138h1v1h-1zM855,132h1v1h-1zM855,138h1v1h-1zM863,132h1v1h-1zM863,138h1v1h-1zM871,132h1v1h-1zM871,138h1v1h-1zM879,132h1v1h-1zM879,138h1v1h-1zM887,132h1v1h-1zM887,138h1v1h-1zM895,132h1v1h-1zM895,138h1v1h-1zM903,132h1v1h-1zM903,138h1v1h-1zM911,132h1v1h-1zM911,138h1v1h-1zM919,132h1v1h-1zM919,138h1v1h-1zM927,132h1v1h-1zM927,138h1v1h-1zM935,132h1v1h-1zM935,138h1v1h-1zM943,132h1v1h-1zM943,138h1v1h-1zM159,148h1v1h-1zM159,154h1v1h-1zM167,148h1v1h-1zM167,154h1v1h-1zM175,148h1v1h-1zM175,154h1v1h-1zM183,148h1v1h-1zM183,154h1v1h-1zM191,148h1v1h-1zM191,154h1v1h-1zM199,148h1v1h-1zM199,154h1v1h-1zM207,148h1v1h-1zM207,154h1v1h-1zM215,148h1v1h-1zM215,154h1v1h-1zM223,148h1v1h-1zM223,154h1v1h-1zM231,148h1v1h-1zM231,154h1v1h-1zM239,148h1v1h-1zM239,154h1v1h-1zM247,148h1v1h-1zM247,154h1v1h-1zM255,148h1v1h-1zM255,154h1v1h-1zM263,148h1v1h-1zM263,154h1v1h-1zM271,148h1v1h-1zM271,154h1v1h-1zM279,148h1v1h-1zM279,154h1v1h-1zM287,148h1v1h-1zM287,154h1v1h-1zM295,148h1v1h-1zM295,154h1v1h-1zM303,148h1v1h-1zM303,154h1v1h-1zM311,148h1v1h-1zM311,154h1v1h-1zM319,148h1v1h-1zM319,154h1v1h-1zM327,148h1v1h-1zM327,154h1v1h-1zM335,148h1v1h-1zM335,154h1v1h-1zM343,148h1v1h-1zM343,154h1v1h-1zM351,148h1v1h-1zM351,154h1v1h-1zM359,148h1v1h-1zM359,154h1v1h-1zM367,148h1v1h-1zM367,154h1v1h-1zM375,148h1v1h-1zM375,154h1v1h-1zM383,148h1v1h-1zM383,154h1v1h-1zM391,148h1v1h-1zM391,154h1v1h-1zM399,148h1v1h-1zM399,154h1v1h-1zM407,148h1v1h-1zM407,154h1v1h-1zM415,148h1v1h-1zM415,154h1v1h-1zM423,148h1v1h-1zM423,154h1v1h-1zM431,148h1v1h-1zM431,154h1v1h-1zM439,148h1v1h-1zM439,154h1v1h-1zM447,148h1v1h-1zM447,154h1v1h-1zM455,148h1v1h-1zM455,154h1v1h-1zM463,148h1v1h-1zM463,154h1v1h-1zM471,148h1v1h-1zM471,154h1v1h-1zM479,148h1v1h-1zM479,154h1v1h-1zM487,148h1v1h-1zM487,154h1v1h-1zM495,148h1v1h-1zM495,154h1v1h-1zM503,148h1v1h-1zM503,154h1v1h-1zM511,148h1v1h-1zM511,154h1v1h-1zM519,148h1v1h-1zM519,154h1v1h-1zM527,148h1v1h-1zM527,154h1v1h-1zM535,148h1v1h-1zM535,154h1v1h-1zM543,148h1v1h-1zM543,154h1v1h-1zM551,148h1v1h-1zM551,154h1v1h-1zM559,148h1v1h-1zM559,154h1v1h-1zM567,148h1v1h-1zM567,154h1v1h-1zM575,148h1v1h-1zM575,154h1v1h-1zM583,148h1v1h-1zM583,154h1v1h-1zM591,148h1v1h-1zM591,154h1v1h-1zM599,148h1v1h-1zM599,154h1v1h-1zM607,148h1v1h-1zM607,154h1v1h-1zM615,148h1v1h-1zM615,154h1v1h-1zM623,148h1v1h-1zM623,154h1v1h-1zM631,148h1v1h-1zM631,154h1v1h-1zM639,148h1v1h-1zM639,154h1v1h-1zM647,148h1v1h-1zM647,154h1v1h-1zM655,148h1v1h-1zM655,154h1v1h-1zM663,148h1v1h-1zM663,154h1v1h-1zM671,148h1v1h-1zM671,154h1v1h-1zM679,148h1v1h-1zM679,154h1v1h-1zM687,148h1v1h-1zM687,154h1v1h-1zM695,148h1v1h-1zM695,154h1v1h-1zM703,148h1v1h-1zM703,154h1v1h-1zM711,148h1v1h-1zM711,154h1v1h-1zM719,148h1v1h-1zM719,154h1v1h-1zM727,148h1v1h-1zM727,154h1v1h-1zM735,148h1v1h-1zM735,154h1v1h-1zM743,148h1v1h-1zM743,154h1v1h-1zM751,148h1v1h-1zM751,154h1v1h-1zM759,148h1v1h-1zM759,154h1v1h-1zM767,148h1v1h-1zM767,154h1v1h-1zM775,148h1v1h-1zM775,154h1v1h-1zM783,148h1v1h-1zM783,154h1v1h-1zM791,148h1v1h-1zM791,154h1v1h-1zM799,148h1v1h-1zM799,154h1v1h-1zM807,148h1v1h-1zM807,154h1v1h-1zM815,148h1v1h-1zM815,154h1v1h-1zM823,148h1v1h-1zM823,154h1v1h-1zM831,148h1v1h-1zM831,154h1v1h-1zM839,148h1v1h-1zM839,154h1v1h-1zM847,148h1v1h-1zM847,154h1v1h-1zM855,148h1v1h-1zM855,154h1v1h-1zM863,148h1v1h-1zM863,154h1v1h-1zM871,148h1v1h-1zM871,154h1v1h-1zM879,148h1v1h-1zM879,154h1v1h-1zM887,148h1v1h-1zM887,154h1v1h-1zM895,148h1v1h-1zM895,154h1v1h-1zM903,148h1v1h-1zM903,154h1v1h-1zM911,148h1v1h-1zM911,154h1v1h-1zM919,148h1v1h-1zM919,154h1v1h-1zM927,148h1v1h-1zM927,154h1v1h-1zM935,148h1v1h-1zM935,154h1v1h-1zM943,148h1v1h-1zM943,154h1v1h-1z" fill="#0c0c78" fill-opacity="0.55"/>
<text y="172" font-size="11"><tspan x="491" font-size="12" textLength="7.94" lengthAdjust="spacingAndGlyphs">R</tspan><tspan x="499 505">ef</tspan><tspan x="508" font-size="12" textLength="7.34" lengthAdjust="spacingAndGlyphs">S</tspan><tspan x="515 521 527 530 536 542 548 554 560 563 566 570 576 585">eq genes from </tspan><tspan x="588" font-size="12" textLength="7.94" lengthAdjust="spacingAndGlyphs">N</tspan><tspan x="596" font-size="12" textLength="7.94" lengthAdjust="spacingAndGlyphs">C</tspan><tspan x="604" font-size="12" textLength="7.34" lengthAdjust="spacingAndGlyphs">B</tspan><tspan x="611" font-size="12" textLength="3.06" lengthAdjust="spacingAndGlyphs">I</tspan></text>
<text y="187" fill="#0c0c78"><tspan x="60" font-size="14" textLength="9.39" lengthAdjust="spacingAndGlyphs">R</tspan><tspan x="69 76">ef</tspan><tspan x="80" font-size="14" textLength="8.67" lengthAdjust="spacingAndGlyphs">S</tspan><tspan x="89 96 103">eq </tspan><tspan x="107" font-size="14" textLength="9.39" lengthAdjust="spacingAndGlyphs">C</tspan><tspan x="116 123 127 134 138 145">urated</tspan></text>
<rect x="157" y="182" width="792" height="1" fill="#0c0c78"/>
<text y="203" font-size="11"><tspan x="445" font-size="12" textLength="7.34" lengthAdjust="spacingAndGlyphs">P</tspan><tspan x="452 458 464 466 468 474 480 483 485 491 497 503 506">ublications: </tspan><tspan x="509" font-size="12" textLength="7.34" lengthAdjust="spacingAndGlyphs">S</tspan><tspan x="516 522 528 534 540 546 552 558 564 567 569 575">equences in </tspan><tspan x="578" font-size="12" textLength="7.34" lengthAdjust="spacingAndGlyphs">S</tspan><tspan x="585 591 593 599 605 608 610 613 615 621">cientific </tspan><tspan x="624" font-size="12" textLength="7.34" lengthAdjust="spacingAndGlyphs">A</tspan><tspan x="631 635 638 640 646 648 654">rticles</tspan></text>
<text y="218"><tspan x="87" font-size="14" textLength="8.67" lengthAdjust="spacingAndGlyphs">S</tspan><tspan x="96 103 110 117 124 131 138 145">equences</tspan></text>
<text y="234"><tspan x="118" font-size="14" textLength="8.67" lengthAdjust="spacingAndGlyphs">S</tspan><tspan x="127" font-size="14" textLength="9.39" lengthAdjust="spacingAndGlyphs">N</tspan><tspan x="136" font-size="14" textLength="8.67" lengthAdjust="spacingAndGlyphs">P</tspan><tspan x="145">s</tspan></text>
<text y="251" fill="#005a00"><tspan x="368" font-size="14" textLength="10.11" lengthAdjust="spacingAndGlyphs">O</tspan><tspan x="378" font-size="14" textLength="10.83" lengthAdjust="spacingAndGlyphs">M</tspan><tspan x="389" font-size="14" textLength="3.61" lengthAdjust="spacingAndGlyphs">I</tspan><tspan x="393" font-size="14" textLength="10.83" lengthAdjust="spacingAndGlyphs">M</tspan><tspan x="404"> </tspan><tspan x="408" font-size="14" textLength="10.11" lengthAdjust="spacingAndGlyphs">G</tspan><tspan x="418 425 432 439">ene </tspan><tspan x="443" font-size="14" textLength="8.67" lengthAdjust="spacingAndGlyphs">P</tspan><tspan x="452 459 466 473 480 484 491 498 505 512 516 520">henotypes - </tspan><tspan x="524" font-size="14" textLength="9.39" lengthAdjust="spacingAndGlyphs">D</tspan><tspan x="533 540 544 551">ark </tspan><tspan x="555" font-size="14" textLength="10.11" lengthAdjust="spacingAndGlyphs">G</tspan><tspan x="565 569 576 583 590">reen </tspan><tspan x="594" font-size="14" textLength="9.39" lengthAdjust="spacingAndGlyphs">C</tspan><tspan x="603 610 617">an </tspan><tspan x="621" font-size="14" textLength="8.67" lengthAdjust="spacingAndGlyphs">B</tspan><tspan x="630 637">e </tspan><tspan x="641" font-size="14" textLength="9.39" lengthAdjust="spacingAndGlyphs">D</tspan><tspan x="650 653 660 667 674 681 688 692 699 706 713 720 723 730">isease-causing</tspan></text>
<text y="265" fill="#005a00"><tspan x="74" font-size="14" textLength="10.11" lengthAdjust="spacingAndGlyphs">O</tspan><tspan x="84" font-size="14" textLength="10.83" lengthAdjust="spacingAndGlyphs">M</tspan><tspan x="95" font-size="14" textLength="3.61" lengthAdjust="spacingAndGlyphs">I</tspan><tspan x="99" font-size="14" textLength="10.83" lengthAdjust="spacingAndGlyphs">M</tspan><tspan x="110"> </tspan><tspan x="114" font-size="14" textLength="10.11" lengthAdjust="spacingAndGlyphs">G</tspan><tspan x="124 131 138 145">enes</tspan></text>
<rect x="156" y="253" width="793" height="15" fill="#bebebe"/>
<text y="281" font-size="11"><tspan x="436" font-size="12" textLength="7.34" lengthAdjust="spacingAndGlyphs">S</tspan><tspan x="443 449 455 459 462">hort </tspan><tspan x="465" font-size="12" textLength="8.56" lengthAdjust="spacingAndGlyphs">G</tspan><tspan x="474 480 486 492 495 497 503">enetic </tspan><tspan x="506" font-size="12" textLength="7.34" lengthAdjust="spacingAndGlyphs">V</tspan><tspan x="513 519 523 525 531 537 540 546 549 552 556 562 571 574 580">ariants from db</tspan><tspan x="586" font-size="12" textLength="7.34" lengthAdjust="spacingAndGlyphs">S</tspan><tspan x="593" font-size="12" textLength="7.94" lengthAdjust="spacingAndGlyphs">N</tspan><tspan x="601" font-size="12" textLength="7.34" lengthAdjust="spacingAndGlyphs">P</tspan><tspan x="608 611 615 621 623 629 635 641 647 650 656 662"> release 155</tspan></text>
<text y="296"><tspan x="26" font-size="14" textLength="9.39" lengthAdjust="spacingAndGlyphs">C</tspan><tspan x="35 42 53 64 71 78 82 89">ommon db</tspan><tspan x="96" font-size="14" textLength="8.67" lengthAdjust="spacingAndGlyphs">S</tspan><tspan x="105" font-size="14" textLength="9.39" lengthAdjust="spacingAndGlyphs">N</tspan><tspan x="114" font-size="14" textLength="8.67" lengthAdjust="spacingAndGlyphs">P</tspan><tspan x="123 127 134 141 148">(155)</tspan></text>
<text y="313"><tspan x="266" font-size="14" textLength="10.11" lengthAdjust="spacingAndGlyphs">G</tspan><tspan x="276 283 290 297">ene </tspan><tspan x="301" font-size="14" textLength="8.67" lengthAdjust="spacingAndGlyphs">E</tspan><tspan x="310 317 324 328 335 342 349 352 359 366 370 373 380 384 391 398 402 406 409 416 423 430 437 444 448 452 456 463 474">xpression in 54 tissues from </tspan><tspan x="478" font-size="14" textLength="10.11" lengthAdjust="spacingAndGlyphs">G</tspan><tspan x="488" font-size="14" textLength="7.94" lengthAdjust="spacingAndGlyphs">T</tspan><tspan x="496" font-size="14" textLength="8.67" lengthAdjust="spacingAndGlyphs">E</tspan><tspan x="505 512">x </tspan><tspan x="516" font-size="14" textLength="9.39" lengthAdjust="spacingAndGlyphs">R</tspan><tspan x="525" font-size="14" textLength="9.39" lengthAdjust="spacingAndGlyphs">N</tspan><tspan x="534" font-size="14" textLength="8.67" lengthAdjust="spacingAndGlyphs">A</tspan><tspan x="543 547 554 561 568 572 579 583 587 594 601 608 615 622 626 633 640 651 658 661 668 675 679 683 690 697 704 708 715 722 729 736 740 747 751">-seq of 17382 samples, 948 donors (</tspan><tspan x="755" font-size="14" textLength="8.67" lengthAdjust="spacingAndGlyphs">V</tspan><tspan x="764 771 775">8, </tspan><tspan x="779" font-size="14" textLength="8.67" lengthAdjust="spacingAndGlyphs">A</tspan><tspan x="788 795 802 806 813 820 827 834">ug 2019)</tspan></text>
<text y="355"><tspan x="109" font-size="14" textLength="9.39" lengthAdjust="spacingAndGlyphs">C</tspan><tspan x="118" font-size="14" textLength="9.39" lengthAdjust="spacingAndGlyphs">C</tspan><tspan x="127" font-size="14" textLength="9.39" lengthAdjust="spacingAndGlyphs">N</tspan><tspan x="136" font-size="14" textLength="9.39" lengthAdjust="spacingAndGlyphs">D</tspan><tspan x="145">3</tspan></text>
<rect x="156" y="316" width="378" height="64" fill="#f0f0f0"/>
<rect x="157" y="317" width="376" height="62" fill="#ffffff"/>
<rect x="156" y="331" width="5" height="48" fill="#FFA54F"/>
<rect x="163" y="330" width="5" height="49" fill="#EE9A00"/>
<rect x="170" y="325" width="5" height="54" fill="#8FBC8F"/>
<rect x="177" y="333" width="5" height="46" fill="#8B1C62"/>
<rect x="184" y="333" width="5" height="46" fill="#EE6A50"/>
<rect x="191" y="336" width="5" height="43" fill="#FF0000"/>
<rect x="198" y="334" width="5" height="45" fill="#CDB79E"/>
<rect x="205" y="342" width="5" height="37" fill="#EEEE00"/>
<rect x="212" y="338" width="5" height="41" fill="#EEEE00"/>
<rect x="219" y="341" width="5" height="38" fill="#EEEE00"/>
<rect x="226" y="335" width="5" height="44" fill="#EEEE00"/>
<rect x="233" y="335" width="5" height="44" fill="#EEEE00"/>
<rect x="240" y="336" width="5" height="43" fill="#EEEE00"/>
<rect x="247" y="335" width="5" height="44" fill="#EEEE00"/>
<rect x="254" y="341" width="5" height="38" fill="#EEEE00"/>
<rect x="261" y="340" width="5" height="39" fill="#EEEE00"/>
<rect x="268" y="339" width="5" height="40" fill="#EEEE00"/>
<rect x="275" y="341" width="5" height="38" fill="#EEEE00"/>
<rect x="282" y="341" width="5" height="38" fill="#EEEE00"/>
<rect x="289" y="342" width="5" height="37" fill="#EEEE00"/>
<rect x="296" y="331" width="5" height="48" fill="#00CDCD"/>
<rect x="303" y="333" width="5" height="46" fill="#EE82EE"/>
<rect x="310" y="335" width="5" height="44" fill="#9AC0CD"/>
<rect x="317" y="334" width="5" height="45" fill="#EED5D2"/>
<rect x="324" y="334" width="5" height="45" fill="#EED5D2"/>
<rect x="331" y="335" width="5" height="44" fill="#CDB79E"/>
<rect x="338" y="337" width="5" height="42" fill="#EEC591"/>
<rect x="345" y="333" width="5" height="46" fill="#8B7355"/>
<rect x="352" y="340" width="5" height="39" fill="#8B7355"/>
<rect x="359" y="334" width="5" height="45" fill="#CDAA7D"/>
<rect x="366" y="334" width="5" height="45" fill="#EED5D2"/>
<rect x="373" y="342" width="5" height="37" fill="#B452CD"/>
<rect x="380" y="345" width="5" height="34" fill="#7A378B"/>
<rect x="387" y="345" width="5" height="34" fill="#CDB79E"/>
<rect x="394" y="341" width="5" height="38" fill="#CDB79E"/>
<rect x="401" y="356" width="5" height="23" fill="#CDB79E"/>
<rect x="408" y="323" width="5" height="56" fill="#9ACD32"/>
<rect x="415" y="336" width="5" height="43" fill="#CDB79E"/>
<rect x="422" y="356" width="5" height="23" fill="#7A67EE"/>
<rect x="429" y="326" width="5" height="53" fill="#FFD700"/>
<rect x="436" y="336" width="5" height="43" fill="#FFB6C1"/>
<rect x="443" y="352" width="5" height="27" fill="#CD9B1D"/>
<rect x="450" y="339" width="5" height="40" fill="#B4EEB4"/>
<rect x="457" y="333" width="5" height="46" fill="#D9D9D9"/>
<rect x="464" y="337" width="5" height="42" fill="#3A5FCD"/>
<rect x="471" y="334" width="5" height="45" fill="#1E90FF"/>
<rect x="478" y="332" width="5" height="47" fill="#CDB79E"/>
<rect x="485" y="319" width="5" height="60" fill="#CDB79E"/>
<rect x="492" y="334" width="5" height="45" fill="#FFD39B"/>
<rect x="499" y="349" width="5" height="30" fill="#A6A6A6"/>
<rect x="506" y="330" width="5" height="49" fill="#008B45"/>
<rect x="513" y="333" width="5" height="46" fill="#EED5D2"/>
<rect x="520" y="334" width="5" height="45" fill="#EED5D2"/>
<rect x="527" y="316" width="5" height="63" fill="#FF00FF"/>
<rect x="156" y="380" width="793" height="2" fill="#000078"/>
<text y="397"><tspan x="281" font-size="14" textLength="9.39" lengthAdjust="spacingAndGlyphs">H</tspan><tspan x="290">3</tspan><tspan x="297" font-size="14" textLength="8.67" lengthAdjust="spacingAndGlyphs">K</tspan><tspan x="306 313">27</tspan><tspan x="320" font-size="14" textLength="8.67" lengthAdjust="spacingAndGlyphs">A</tspan><tspan x="329 336">c </tspan><tspan x="340" font-size="14" textLength="10.83" lengthAdjust="spacingAndGlyphs">M</tspan><tspan x="351 358 362 369 373">ark (</tspan><tspan x="377" font-size="14" textLength="10.11" lengthAdjust="spacingAndGlyphs">O</tspan><tspan x="387 391 395 402 409">ften </tspan><tspan x="413" font-size="14" textLength="7.94" lengthAdjust="spacingAndGlyphs">F</tspan><tspan x="421 428 435 442 449">ound </tspan><tspan x="453" font-size="14" textLength="9.39" lengthAdjust="spacingAndGlyphs">N</tspan><tspan x="462 469 476 480">ear </tspan><tspan x="484" font-size="14" textLength="8.67" lengthAdjust="spacingAndGlyphs">A</tspan><tspan x="493 500 504 507 514 521">ctive </tspan><tspan x="525" font-size="14" textLength="9.39" lengthAdjust="spacingAndGlyphs">R</tspan><tspan x="534 541 548 555 558 565 569 576 580 587">egulatory </tspan><tspan x="591" font-size="14" textLength="8.67" lengthAdjust="spacingAndGlyphs">E</tspan><tspan x="600 603 610 621 628 635 639 646 650 654 661 668 672 679 683 690 697 700 703 707 710 713 720 727 734 738 742 746 753 764">lements) on 7 cell lines from </tspan><tspan x="768" font-size="14" textLength="8.67" lengthAdjust="spacingAndGlyphs">E</tspan><tspan x="777" font-size="14" textLength="9.39" lengthAdjust="spacingAndGlyphs">N</tspan><tspan x="786" font-size="14" textLength="9.39" lengthAdjust="spacingAndGlyphs">C</tspan><tspan x="795" font-size="14" textLength="10.11" lengthAdjust="spacingAndGlyphs">O</tspan><tspan x="805" font-size="14" textLength="9.39" lengthAdjust="spacingAndGlyphs">D</tspan><tspan x="814" font-size="14" textLength="8.67" lengthAdjust="spacingAndGlyphs">E</tspan></text>
<text y="411"><tspan x="13" font-size="14" textLength="7.23" lengthAdjust="spacingAndGlyphs">L</tspan><tspan x="20 27 34 41 45 52 59">ayered </tspan><tspan x="63" font-size="14" textLength="9.39" lengthAdjust="spacingAndGlyphs">H</tspan><tspan x="72">3</tspan><tspan x="79" font-size="14" textLength="8.67" lengthAdjust="spacingAndGlyphs">K</tspan><tspan x="88 95">27</tspan><tspan x="102" font-size="14" textLength="8.67" lengthAdjust="spacingAndGlyphs">A</tspan><tspan x="111">c</tspan></text>
<rect x="156" y="422" width="793" height="4" fill="#ff7f7f"/>
<rect x="156" y="426" width="793" height="2" fill="#7a2e3a"/>
<rect x="156" y="428" width="793" height="1" fill="#3a2428"/>
<text y="443" fill="#3c3c8c"><tspan x="405 412 419 426 430 437 444 448 452 459 466 470 477 481 488 495">100 vertebrates </tspan><tspan x="499" font-size="14" textLength="8.67" lengthAdjust="spacingAndGlyphs">B</tspan><tspan x="508 515 522 529 538 541 548 555">asewise </tspan><tspan x="559" font-size="14" textLength="9.39" lengthAdjust="spacingAndGlyphs">C</tspan><tspan x="568 575 582 589 596 600 607 614 618 621 628 635 639 646 653">onservation by </tspan><tspan x="657" font-size="14" textLength="8.67" lengthAdjust="spacingAndGlyphs">P</tspan><tspan x="666 673 680 683">hylo</tspan><tspan x="690" font-size="14" textLength="8.67" lengthAdjust="spacingAndGlyphs">P</tspan></text>
<text x="116 123 127 134 141 145" y="442" fill="#3c3c8c">4.88 _</text>
<text y="467" fill="#3c3c8c"><tspan x="13 20 27 34">100 </tspan><tspan x="38" font-size="14" textLength="8.67" lengthAdjust="spacingAndGlyphs">V</tspan><tspan x="47 54 58 62 66">ert. </tspan><tspan x="70" font-size="14" textLength="9.39" lengthAdjust="spacingAndGlyphs">C</tspan><tspan x="79 86 93">ons</tspan></text>
<text x="119 123 130 134 141 145" y="492" fill="#8c3c3c">-4.5 _</text>
<text transform="translate(304,471) scale(4.9800,1.3038)" x="-0.660" y="-0.127" fill="#9a9a00" fill-opacity="1">C</text>
<text transform="translate(530,472.6) scale(5.0667,0.1521)" x="-0.654" y="-0.127" fill="#0000ff" fill-opacity="0.85">G</text>
<text transform="translate(757,470) scale(4.8585,0.1630)" x="-0.660" y="-0.127" fill="#9a9a00" fill-opacity="0.6">C</text>
<text transform="translate(870,470) scale(4.9800,0.4346)" x="-0.660" y="-0.127" fill="#9a9a00" fill-opacity="1">C</text>
<text y="509" fill="#000a64"><tspan x="445" font-size="14" textLength="10.83" lengthAdjust="spacingAndGlyphs">M</tspan><tspan x="456 463 466 470 473 480">ultiz </tspan><tspan x="484" font-size="14" textLength="8.67" lengthAdjust="spacingAndGlyphs">A</tspan><tspan x="493 496 499 506 513 524 531 538 542 549 553 560 564 568 575 582 589">lignments of 100 </tspan><tspan x="593" font-size="14" textLength="8.67" lengthAdjust="spacingAndGlyphs">V</tspan><tspan x="602 609 613 617 624 631 635 642 646 653">ertebrates</tspan></text>
<text y="523" fill="#e08000"><tspan x="121" font-size="14" textLength="10.11" lengthAdjust="spacingAndGlyphs">G</tspan><tspan x="131 138 145">aps</tspan></text>
<text y="538" fill="#000a64"><tspan x="111" font-size="14" textLength="9.39" lengthAdjust="spacingAndGlyphs">H</tspan><tspan x="120 127 138 145">uman</tspan></text>
<text y="553" fill="#000a64"><tspan x="108" font-size="14" textLength="9.39" lengthAdjust="spacingAndGlyphs">R</tspan><tspan x="117 124 131 138 145">hesus</tspan></text>
<text y="568" fill="#005a00"><tspan x="113" font-size="14" textLength="10.83" lengthAdjust="spacingAndGlyphs">M</tspan><tspan x="124 131 138 145">ouse</tspan></text>
<text y="583" fill="#000a64"><tspan x="129" font-size="14" textLength="9.39" lengthAdjust="spacingAndGlyphs">D</tspan><tspan x="138 145">og</tspan></text>
<text y="598" fill="#005a00"><tspan x="101" font-size="14" textLength="8.67" lengthAdjust="spacingAndGlyphs">E</tspan><tspan x="110 113 120 127 134 141 148">lephant</tspan></text>
<text y="613" fill="#005a00"><tspan x="105" font-size="14" textLength="9.39" lengthAdjust="spacingAndGlyphs">C</tspan><tspan x="114 121 124 131 138 145">hicken</tspan></text>
<text y="628" fill="#000a64"><tspan x="84" font-size="14" textLength="8.67" lengthAdjust="spacingAndGlyphs">X</tspan><tspan x="93 100 104 108 115 122 125 132 139 142 145">_tropicalis</tspan></text>
<text y="643" fill="#005a00"><tspan x="98" font-size="14" textLength="7.94" lengthAdjust="spacingAndGlyphs">Z</tspan><tspan x="106 113 120 124 131 135 138 145">ebrafish</tspan></text>
<text x="205.9" y="538" fill="#000a64"><tspan x="205.9" font-size="14" textLength="10.11" lengthAdjust="spacingAndGlyphs">G</tspan></text>
<text x="318.83" y="538" fill="#000a64"><tspan x="318.83" font-size="14" textLength="9.39" lengthAdjust="spacingAndGlyphs">C</tspan></text>
<text x="432.08" y="538" fill="#000a64"><tspan x="432.08" font-size="14" textLength="9.39" lengthAdjust="spacingAndGlyphs">C</tspan></text>
<text x="544.9" y="538" fill="#000a64"><tspan x="544.9" font-size="14" textLength="10.11" lengthAdjust="spacingAndGlyphs">G</tspan></text>
<text x="658.88" y="538" fill="#000a64"><tspan x="658.88" font-size="14" textLength="9.39" lengthAdjust="spacingAndGlyphs">C</tspan></text>
<text x="771.83" y="538" fill="#000a64"><tspan x="771.83" font-size="14" textLength="9.39" lengthAdjust="spacingAndGlyphs">C</tspan></text>
<text x="885.88" y="538" fill="#000a64"><tspan x="885.88" font-size="14" textLength="9.39" lengthAdjust="spacingAndGlyphs">C</tspan></text>
<text x="205.9" y="553" fill="#000a64"><tspan x="205.9" font-size="14" textLength="10.11" lengthAdjust="spacingAndGlyphs">G</tspan></text>
<text x="318.83" y="553" fill="#000a64"><tspan x="318.83" font-size="14" textLength="9.39" lengthAdjust="spacingAndGlyphs">C</tspan></text>
<text x="432.08" y="553" fill="#000a64"><tspan x="432.08" font-size="14" textLength="9.39" lengthAdjust="spacingAndGlyphs">C</tspan></text>
<text x="544.9" y="553" fill="#000a64"><tspan x="544.9" font-size="14" textLength="10.11" lengthAdjust="spacingAndGlyphs">G</tspan></text>
<text x="658.88" y="553" fill="#000a64"><tspan x="658.88" font-size="14" textLength="9.39" lengthAdjust="spacingAndGlyphs">C</tspan></text>
<text x="771.83" y="553" fill="#000a64"><tspan x="771.83" font-size="14" textLength="9.39" lengthAdjust="spacingAndGlyphs">C</tspan></text>
<text x="885.88" y="553" fill="#000a64"><tspan x="885.88" font-size="14" textLength="9.39" lengthAdjust="spacingAndGlyphs">C</tspan></text>
<text x="208.8" y="568" fill="#7878b0">-</text>
<text x="321.6" y="568" fill="#7878b0">-</text>
<text x="434.85" y="568" fill="#7878b0">-</text>
<text x="547.8" y="568" fill="#7878b0">-</text>
<text x="661.65" y="568" fill="#7878b0">-</text>
<text x="774.6" y="568" fill="#7878b0">-</text>
<text x="888.65" y="568" fill="#7878b0">-</text>
<text x="205.9" y="583" fill="#000a64"><tspan x="205.9" font-size="14" textLength="10.11" lengthAdjust="spacingAndGlyphs">G</tspan></text>
<text x="318.83" y="583" fill="#000a64"><tspan x="318.83" font-size="14" textLength="9.39" lengthAdjust="spacingAndGlyphs">C</tspan></text>
<text x="433.35" y="583" fill="#8c8cbc"><tspan x="433.35" font-size="14" textLength="7.94" lengthAdjust="spacingAndGlyphs">T</tspan></text>
<text x="544.9" y="583" fill="#000a64"><tspan x="544.9" font-size="14" textLength="10.11" lengthAdjust="spacingAndGlyphs">G</tspan></text>
<text x="658.88" y="583" fill="#000a64"><tspan x="658.88" font-size="14" textLength="9.39" lengthAdjust="spacingAndGlyphs">C</tspan></text>
<text x="771.83" y="583" fill="#000a64"><tspan x="771.83" font-size="14" textLength="9.39" lengthAdjust="spacingAndGlyphs">C</tspan></text>
<text x="885.88" y="583" fill="#000a64"><tspan x="885.88" font-size="14" textLength="9.39" lengthAdjust="spacingAndGlyphs">C</tspan></text>
<text x="205.9" y="598" fill="#000a64"><tspan x="205.9" font-size="14" textLength="10.11" lengthAdjust="spacingAndGlyphs">G</tspan></text>
<text x="318.83" y="598" fill="#000a64"><tspan x="318.83" font-size="14" textLength="9.39" lengthAdjust="spacingAndGlyphs">C</tspan></text>
<text x="432.08" y="598" fill="#000a64"><tspan x="432.08" font-size="14" textLength="9.39" lengthAdjust="spacingAndGlyphs">C</tspan></text>
<text x="546.3" y="598" fill="#8c8cbc"><tspan x="546.3" font-size="14" textLength="7.94" lengthAdjust="spacingAndGlyphs">T</tspan></text>
<text x="658.88" y="598" fill="#000a64"><tspan x="658.88" font-size="14" textLength="9.39" lengthAdjust="spacingAndGlyphs">C</tspan></text>
<text x="773.1" y="598" fill="#8c8cbc"><tspan x="773.1" font-size="14" textLength="7.94" lengthAdjust="spacingAndGlyphs">T</tspan></text>
<text x="885.88" y="598" fill="#000a64"><tspan x="885.88" font-size="14" textLength="9.39" lengthAdjust="spacingAndGlyphs">C</tspan></text>
<text y="659"><tspan x="441" font-size="14" textLength="9.39" lengthAdjust="spacingAndGlyphs">R</tspan><tspan x="450 457 464 471 478 482 485 492 499">epeating </tspan><tspan x="503" font-size="14" textLength="8.67" lengthAdjust="spacingAndGlyphs">E</tspan><tspan x="512 515 522 533 540 547 551 558 562 569 576">lements by </tspan><tspan x="580" font-size="14" textLength="9.39" lengthAdjust="spacingAndGlyphs">R</tspan><tspan x="589 596 603 610 617">epeat</tspan><tspan x="621" font-size="14" textLength="10.83" lengthAdjust="spacingAndGlyphs">M</tspan><tspan x="632 639 646 653 660">asker</tspan></text>
<text y="673"><tspan x="68" font-size="14" textLength="9.39" lengthAdjust="spacingAndGlyphs">R</tspan><tspan x="77 84 91 98 105">epeat</tspan><tspan x="109" font-size="14" textLength="10.83" lengthAdjust="spacingAndGlyphs">M</tspan><tspan x="120 127 134 141 148">asker</tspan></text>
</svg>
</div>
</body></html>
